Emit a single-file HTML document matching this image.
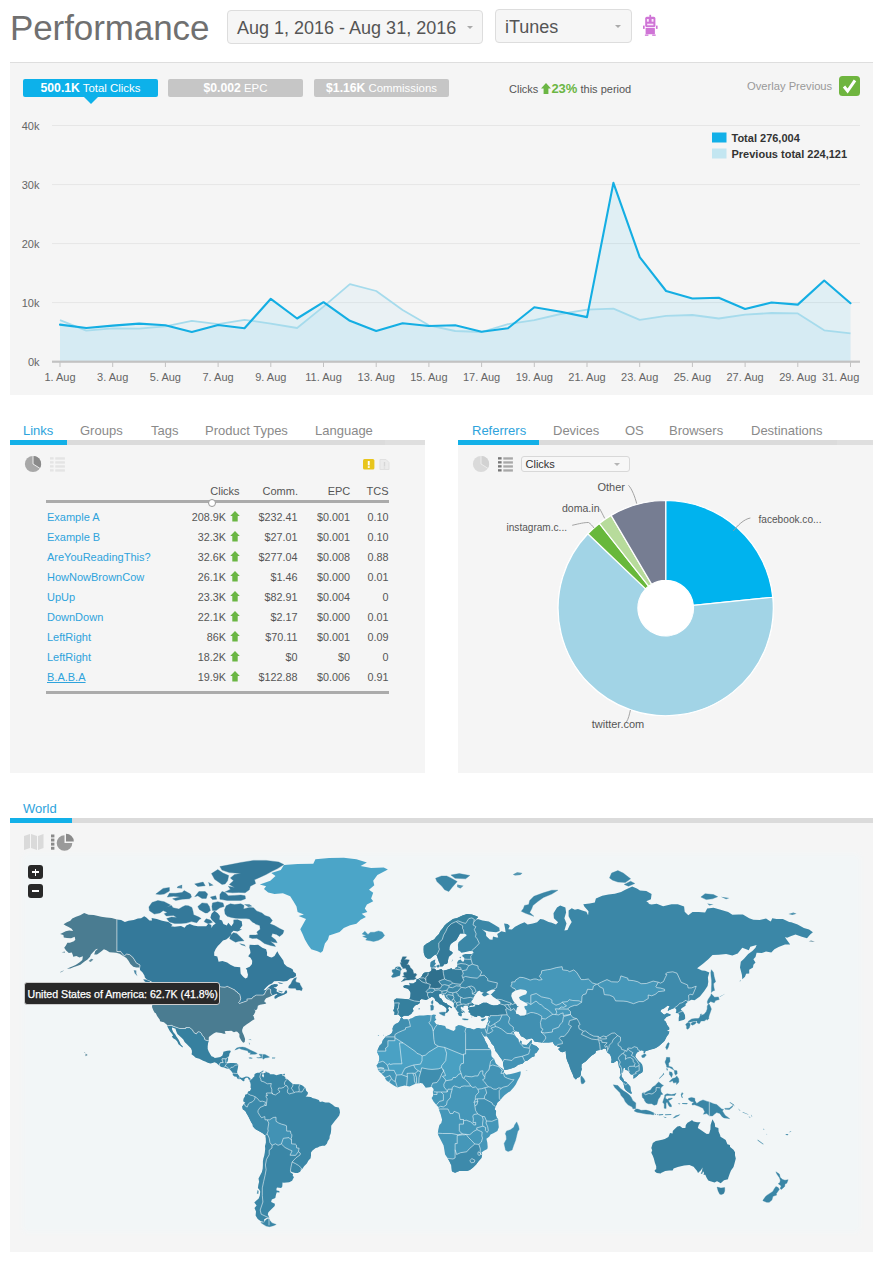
<!DOCTYPE html>
<html>
<head>
<meta charset="utf-8">
<title>Performance</title>
<style>
html,body{margin:0;padding:0;background:#fff;}
body{width:885px;height:1265px;position:relative;overflow:hidden;font-family:"Liberation Sans",sans-serif;color:#555;font-size:11px;}
.abs{position:absolute;}
.t{position:absolute;white-space:nowrap;line-height:1;}
h1{position:absolute;margin:0;left:10px;top:8px;font-size:35px;line-height:40px;font-weight:normal;color:#707070;white-space:nowrap;letter-spacing:-0.1px;}
.sel{position:absolute;box-sizing:border-box;border:1px solid #ddd;border-radius:4px;background:#f6f6f6;font-size:18px;color:#555;white-space:nowrap;}
.sel span{position:absolute;left:9px;top:7px;line-height:20px;}
.caret{position:absolute;width:0;height:0;border-left:3px solid transparent;border-right:3px solid transparent;border-top:3px solid #aaa;}
.panel{position:absolute;background:#f5f5f5;}
.pill{position:absolute;top:79px;height:18px;width:135px;border-radius:2px;background:#c6c6c6;color:#fff;text-align:center;font-size:11.4px;line-height:18px;white-space:nowrap;}
.pill b{font-size:12.2px;}
.tab{position:absolute;font-size:13px;line-height:16px;color:#8a8a8a;white-space:nowrap;}
.tab.on{color:#2ea3dc;}
.bar{position:absolute;height:5.4px;background:#dbdbdb;}
.bar.on{background:#12b0e8;}
.bar.lt{background:#dfdfdf;}
table.lk{position:absolute;left:46px;top:507px;width:343px;border-collapse:collapse;font-size:10.7px;color:#555;}
table.lk td{height:20px;padding:0;line-height:20px;white-space:nowrap;text-align:right;}
table.lk td.n{text-align:left;color:#2ea3dc;font-size:11px;}
.up{display:inline-block;vertical-align:-1px;margin-left:4px;}
</style>
</head>
<body>
<h1>Performance</h1>

<div class="sel" style="left:227px;top:10px;width:256px;height:34px;"><span>Aug 1, 2016 - Aug 31, 2016</span><i class="caret" style="left:239px;top:15px;"></i></div>
<div class="sel" style="left:495px;top:9px;width:137px;height:34px;"><span>iTunes</span><i class="caret" style="left:119px;top:15px;"></i></div>
<!-- robot icon -->
<svg class="abs" style="left:642px;top:14px" width="17" height="23" viewBox="0 0 17 23">
 <g fill="#cf74d6">
  <rect x="7.4" y="0.8" width="1.7" height="2.6"/>
  <rect x="3.2" y="2.8" width="10.2" height="10.4" rx="1.6"/>
  <rect x="1" y="11.6" width="1.7" height="3.3"/>
  <rect x="13.9" y="11.6" width="1.7" height="3.3"/>
  <rect x="3.6" y="13.9" width="9.3" height="6.4" rx="0.6"/>
  <rect x="2.9" y="20.5" width="3.5" height="1.3"/>
  <rect x="10.2" y="20.5" width="3.5" height="1.3"/>
 </g>
 <g fill="#fbe6fc"><rect x="4.9" y="5" width="1.9" height="2.7"/><rect x="9.6" y="5" width="1.9" height="2.7"/><rect x="5.2" y="9.7" width="6.2" height="1.6"/><rect x="3.6" y="13.3" width="9.3" height="0.7"/></g>
</svg>

<!-- ===== top chart panel ===== -->
<div class="panel" style="left:10px;top:62px;width:863px;height:333px;border-top:1px solid #dedede;box-sizing:border-box;"></div>
<div class="pill" style="left:23px;background:#0db1ea;"><b>500.1K</b> Total Clicks</div>
<div class="abs" style="left:84px;top:97px;width:0;height:0;border-left:7px solid transparent;border-right:7px solid transparent;border-top:7px solid #0db1ea;"></div>
<div class="pill" style="left:168px;"><b>$0.002</b> EPC</div>
<div class="pill" style="left:314px;"><b>$1.16K</b> Commissions</div>
<div class="t" style="left:509px;top:82px;font-size:11px;color:#555;line-height:14px;">Clicks <svg width="10" height="11" viewBox="0 0 10 11" style="vertical-align:-1px"><path d="M5 0 L10 5.4 L7.4 5.4 L7.4 11 L2.6 11 L2.6 5.4 L0 5.4 Z" fill="#6bb644"/></svg><b style="color:#6bb644;font-size:13px;">23%</b> this period</div>
<div class="t" style="left:747px;top:80.3px;font-size:11.2px;color:#999;line-height:13px;">Overlay Previous</div>
<svg class="abs" style="left:839px;top:76px" width="21" height="20" viewBox="0 0 21 20"><rect width="21" height="20" rx="3.5" fill="#6fb53f"/><path d="M5 10.5 L8.6 15 L16 4.4" fill="none" stroke="#fff" stroke-width="3" stroke-linecap="butt" stroke-linejoin="miter"/></svg>

<svg class="abs" style="left:0;top:0" width="885" height="400" viewBox="0 0 885 400" font-family="Liberation Sans, sans-serif">
<rect x="52" y="125.0" width="808" height="1" fill="#e6e6e6"/>
<text x="39.5" y="129.7" text-anchor="end" font-size="11" fill="#666">40k</text>
<rect x="52" y="184.1" width="808" height="1" fill="#e6e6e6"/>
<text x="39.5" y="188.8" text-anchor="end" font-size="11" fill="#666">30k</text>
<rect x="52" y="243.1" width="808" height="1" fill="#e6e6e6"/>
<text x="39.5" y="247.8" text-anchor="end" font-size="11" fill="#666">20k</text>
<rect x="52" y="302.1" width="808" height="1" fill="#e6e6e6"/>
<text x="39.5" y="306.8" text-anchor="end" font-size="11" fill="#666">10k</text>
<text x="39.5" y="366" text-anchor="end" font-size="11" fill="#666">0k</text>
<path d="M60.0,361 L60.0,320.2 L86.3,330.7 L112.7,328.3 L139.1,328.6 L165.4,326.3 L191.8,320.8 L218.1,324.2 L244.5,319.8 L270.8,323.6 L297.1,328.0 L323.5,306.6 L349.9,284.1 L376.2,291.0 L402.6,310.0 L428.9,325.3 L455.2,331.0 L481.6,332.0 L508.0,324.2 L534.3,320.2 L560.7,314.0 L587.0,309.7 L613.4,308.6 L639.7,319.8 L666.1,315.8 L692.4,315.0 L718.8,318.5 L745.1,314.7 L771.5,313.0 L797.8,313.4 L824.2,330.3 L850.5,333.4 L850.5,361 Z" fill="#a9dcee" fill-opacity="0.14"/>
<path d="M60.0,361 L60.0,324.6 L86.3,328.0 L112.7,325.6 L139.1,323.6 L165.4,325.3 L191.8,332.0 L218.1,325.0 L244.5,328.3 L270.8,298.8 L297.1,318.5 L323.5,302.2 L349.9,320.8 L376.2,331.0 L402.6,323.2 L428.9,326.0 L455.2,325.3 L481.6,331.7 L508.0,328.3 L534.3,307.3 L560.7,311.7 L587.0,317.1 L613.4,182.9 L639.7,257.1 L666.1,291.0 L692.4,298.5 L718.8,297.8 L745.1,309.0 L771.5,302.5 L797.8,304.6 L824.2,280.5 L850.5,303.2 L850.5,361 Z" fill="#19b0e6" fill-opacity="0.095"/>
<polyline points="60.0,320.2 86.3,330.7 112.7,328.3 139.1,328.6 165.4,326.3 191.8,320.8 218.1,324.2 244.5,319.8 270.8,323.6 297.1,328.0 323.5,306.6 349.9,284.1 376.2,291.0 402.6,310.0 428.9,325.3 455.2,331.0 481.6,332.0 508.0,324.2 534.3,320.2 560.7,314.0 587.0,309.7 613.4,308.6 639.7,319.8 666.1,315.8 692.4,315.0 718.8,318.5 745.1,314.7 771.5,313.0 797.8,313.4 824.2,330.3 850.5,333.4" fill="none" stroke="#a6dbec" stroke-width="1.8" stroke-linejoin="round"/>
<polyline points="60.0,324.6 86.3,328.0 112.7,325.6 139.1,323.6 165.4,325.3 191.8,332.0 218.1,325.0 244.5,328.3 270.8,298.8 297.1,318.5 323.5,302.2 349.9,320.8 376.2,331.0 402.6,323.2 428.9,326.0 455.2,325.3 481.6,331.7 508.0,328.3 534.3,307.3 560.7,311.7 587.0,317.1 613.4,182.9 639.7,257.1 666.1,291.0 692.4,298.5 718.8,297.8 745.1,309.0 771.5,302.5 797.8,304.6 824.2,280.5 850.5,303.2" fill="none" stroke="#14aee3" stroke-width="2.1" stroke-linejoin="round" stroke-linecap="round"/>
<rect x="52" y="360.6" width="808" height="2.2" fill="#c2c2c2"/>
<rect x="59.5" y="362" width="1" height="5" fill="#c2c2c2"/>
<text x="60.0" y="380.5" text-anchor="middle" font-size="11" fill="#666">1. Aug</text>
<rect x="112.2" y="362" width="1" height="5" fill="#c2c2c2"/>
<text x="112.7" y="380.5" text-anchor="middle" font-size="11" fill="#666">3. Aug</text>
<rect x="164.9" y="362" width="1" height="5" fill="#c2c2c2"/>
<text x="165.4" y="380.5" text-anchor="middle" font-size="11" fill="#666">5. Aug</text>
<rect x="217.6" y="362" width="1" height="5" fill="#c2c2c2"/>
<text x="218.1" y="380.5" text-anchor="middle" font-size="11" fill="#666">7. Aug</text>
<rect x="270.3" y="362" width="1" height="5" fill="#c2c2c2"/>
<text x="270.8" y="380.5" text-anchor="middle" font-size="11" fill="#666">9. Aug</text>
<rect x="323.0" y="362" width="1" height="5" fill="#c2c2c2"/>
<text x="323.5" y="380.5" text-anchor="middle" font-size="11" fill="#666">11. Aug</text>
<rect x="375.7" y="362" width="1" height="5" fill="#c2c2c2"/>
<text x="376.2" y="380.5" text-anchor="middle" font-size="11" fill="#666">13. Aug</text>
<rect x="428.4" y="362" width="1" height="5" fill="#c2c2c2"/>
<text x="428.9" y="380.5" text-anchor="middle" font-size="11" fill="#666">15. Aug</text>
<rect x="481.1" y="362" width="1" height="5" fill="#c2c2c2"/>
<text x="481.6" y="380.5" text-anchor="middle" font-size="11" fill="#666">17. Aug</text>
<rect x="533.8" y="362" width="1" height="5" fill="#c2c2c2"/>
<text x="534.3" y="380.5" text-anchor="middle" font-size="11" fill="#666">19. Aug</text>
<rect x="586.5" y="362" width="1" height="5" fill="#c2c2c2"/>
<text x="587.0" y="380.5" text-anchor="middle" font-size="11" fill="#666">21. Aug</text>
<rect x="639.2" y="362" width="1" height="5" fill="#c2c2c2"/>
<text x="639.7" y="380.5" text-anchor="middle" font-size="11" fill="#666">23. Aug</text>
<rect x="691.9" y="362" width="1" height="5" fill="#c2c2c2"/>
<text x="692.4" y="380.5" text-anchor="middle" font-size="11" fill="#666">25. Aug</text>
<rect x="744.6" y="362" width="1" height="5" fill="#c2c2c2"/>
<text x="745.1" y="380.5" text-anchor="middle" font-size="11" fill="#666">27. Aug</text>
<rect x="797.3" y="362" width="1" height="5" fill="#c2c2c2"/>
<text x="797.8" y="380.5" text-anchor="middle" font-size="11" fill="#666">29. Aug</text>
<rect x="850.0" y="362" width="1" height="5" fill="#c2c2c2"/>
<text x="840.7" y="380.5" text-anchor="middle" font-size="11" fill="#666">31. Aug</text>
<rect x="712" y="132.5" width="14.5" height="10" fill="#12b0e8"/>
<text x="731.5" y="141.8" font-size="11" font-weight="bold" fill="#333">Total 276,004</text>
<rect x="712" y="148.5" width="14.5" height="10" fill="#c3e6f1"/>
<text x="731.5" y="157.8" font-size="11" font-weight="bold" fill="#333">Previous total 224,121</text>
</svg>

<!-- ===== left tabs/table ===== -->
<div class="tab on" style="left:23px;top:423px;">Links</div>
<div class="tab" style="left:80px;top:423px;">Groups</div>
<div class="tab" style="left:151px;top:423px;">Tags</div>
<div class="tab" style="left:205px;top:423px;">Product Types</div>
<div class="tab" style="left:315px;top:423px;">Language</div>
<div class="panel" style="left:10px;top:445px;width:415px;height:328px;"></div>
<div class="bar lt" style="left:10px;top:440px;width:415px;"></div>
<div class="bar" style="left:10px;top:440px;width:375px;"></div>
<div class="bar on" style="left:10px;top:440px;width:57px;"></div>

<svg class="abs" style="left:23.1px;top:454.1px;opacity:1" width="20" height="20" viewBox="-10 -10 20 20"><circle r="8.1" fill="#a8a8a8"/><path d="M0,0 L0,-8.1 A8.1,8.1 0 0 1 6.87,4.29 Z" fill="#8a8a8a"/><path d="M0,-8.1 L0,0 L6.87,4.29" fill="none" stroke="#ececec" stroke-width="1"/></svg><svg class="abs" style="left:50.3px;top:457.0px;opacity:0.6" width="16" height="15" viewBox="0 0 16 15"><rect x="0" y="0.2" width="3.6" height="2.3" fill="#d9d9d9"/><rect x="5.3" y="0.3" width="9.6" height="2.3" fill="#d9d9d9"/><rect x="0" y="4.2" width="3.6" height="2.3" fill="#d9d9d9"/><rect x="5.3" y="4.3" width="9.6" height="2.3" fill="#d9d9d9"/><rect x="0" y="8.2" width="3.6" height="2.3" fill="#d9d9d9"/><rect x="5.3" y="8.3" width="9.6" height="2.3" fill="#d9d9d9"/><rect x="0" y="12.2" width="3.6" height="2.3" fill="#d9d9d9"/><rect x="5.3" y="12.3" width="9.6" height="2.3" fill="#d9d9d9"/></svg><svg class="abs" style="left:363px;top:459px" width="12" height="11" viewBox="0 0 12 11"><rect width="11.4" height="10.6" rx="1.5" fill="#e8c51c"/><rect x="4.8" y="2" width="1.9" height="4.4" fill="#fff"/><rect x="4.8" y="7.2" width="1.9" height="1.7" fill="#fff"/></svg><svg class="abs" style="left:379px;top:459px;opacity:.55" width="11" height="12" viewBox="0 0 11 12"><path d="M1,0.5 H7 L10,3.5 V10.5 H1 Z" fill="#e4e4e4" stroke="#cfcfcf" stroke-width="1"/><path d="M5.5,3 V7.5 M5.5,8.6 V9.6" stroke="#bdbdbd" stroke-width="1.4"/></svg>

<div class="t" style="right:645.4px;top:483.7px;line-height:14px;font-size:10.8px;font-size:11px;">Clicks</div>
<div class="t" style="right:587.0px;top:483.7px;line-height:14px;font-size:10.8px;font-size:11px;">Comm.</div>
<div class="t" style="right:534.7px;top:483.7px;line-height:14px;font-size:10.8px;font-size:11px;">EPC</div>
<div class="t" style="right:496.5px;top:483.7px;line-height:14px;font-size:10.8px;font-size:11px;">TCS</div>
<div class="abs" style="left:46px;top:500px;width:342.5px;height:2.6px;background:#ababab;"></div>
<div class="abs" style="left:208px;top:498.5px;width:6px;height:6px;border-radius:5px;background:#fff;border:1px solid #999;"></div>
<div class="t" style="left:47px;top:509.7px;line-height:14px;font-size:11px;color:#2ea3dc;">Example A</div>
<div class="t" style="right:659.0px;top:509.7px;line-height:14px;font-size:10.8px;">208.9K</div>
<svg class="abs" style="left:230px;top:510.9px" width="10" height="11" viewBox="0 0 10 11"><path d="M5 0 L9.8 4.9 L7.7 4.9 L7.7 10.6 L2.3 10.6 L2.3 4.9 L0.2 4.9 Z" fill="#6bb644"/></svg>
<div class="t" style="right:587.5px;top:509.7px;line-height:14px;font-size:10.8px;">$232.41</div>
<div class="t" style="right:535.0px;top:509.7px;line-height:14px;font-size:10.8px;">$0.001</div>
<div class="t" style="right:496.5px;top:509.7px;line-height:14px;font-size:10.8px;">0.10</div>
<div class="t" style="left:47px;top:529.7px;line-height:14px;font-size:11px;color:#2ea3dc;">Example B</div>
<div class="t" style="right:659.0px;top:529.7px;line-height:14px;font-size:10.8px;">32.3K</div>
<svg class="abs" style="left:230px;top:530.9px" width="10" height="11" viewBox="0 0 10 11"><path d="M5 0 L9.8 4.9 L7.7 4.9 L7.7 10.6 L2.3 10.6 L2.3 4.9 L0.2 4.9 Z" fill="#6bb644"/></svg>
<div class="t" style="right:587.5px;top:529.7px;line-height:14px;font-size:10.8px;">$27.01</div>
<div class="t" style="right:535.0px;top:529.7px;line-height:14px;font-size:10.8px;">$0.001</div>
<div class="t" style="right:496.5px;top:529.7px;line-height:14px;font-size:10.8px;">0.10</div>
<div class="t" style="left:47px;top:549.7px;line-height:14px;font-size:11px;color:#2ea3dc;">AreYouReadingThis?</div>
<div class="t" style="right:659.0px;top:549.7px;line-height:14px;font-size:10.8px;">32.6K</div>
<svg class="abs" style="left:230px;top:550.9px" width="10" height="11" viewBox="0 0 10 11"><path d="M5 0 L9.8 4.9 L7.7 4.9 L7.7 10.6 L2.3 10.6 L2.3 4.9 L0.2 4.9 Z" fill="#6bb644"/></svg>
<div class="t" style="right:587.5px;top:549.7px;line-height:14px;font-size:10.8px;">$277.04</div>
<div class="t" style="right:535.0px;top:549.7px;line-height:14px;font-size:10.8px;">$0.008</div>
<div class="t" style="right:496.5px;top:549.7px;line-height:14px;font-size:10.8px;">0.88</div>
<div class="t" style="left:47px;top:569.7px;line-height:14px;font-size:11px;color:#2ea3dc;">HowNowBrownCow</div>
<div class="t" style="right:659.0px;top:569.7px;line-height:14px;font-size:10.8px;">26.1K</div>
<svg class="abs" style="left:230px;top:570.9px" width="10" height="11" viewBox="0 0 10 11"><path d="M5 0 L9.8 4.9 L7.7 4.9 L7.7 10.6 L2.3 10.6 L2.3 4.9 L0.2 4.9 Z" fill="#6bb644"/></svg>
<div class="t" style="right:587.5px;top:569.7px;line-height:14px;font-size:10.8px;">$1.46</div>
<div class="t" style="right:535.0px;top:569.7px;line-height:14px;font-size:10.8px;">$0.000</div>
<div class="t" style="right:496.5px;top:569.7px;line-height:14px;font-size:10.8px;">0.01</div>
<div class="t" style="left:47px;top:589.7px;line-height:14px;font-size:11px;color:#2ea3dc;">UpUp</div>
<div class="t" style="right:659.0px;top:589.7px;line-height:14px;font-size:10.8px;">23.3K</div>
<svg class="abs" style="left:230px;top:590.9px" width="10" height="11" viewBox="0 0 10 11"><path d="M5 0 L9.8 4.9 L7.7 4.9 L7.7 10.6 L2.3 10.6 L2.3 4.9 L0.2 4.9 Z" fill="#6bb644"/></svg>
<div class="t" style="right:587.5px;top:589.7px;line-height:14px;font-size:10.8px;">$82.91</div>
<div class="t" style="right:535.0px;top:589.7px;line-height:14px;font-size:10.8px;">$0.004</div>
<div class="t" style="right:496.5px;top:589.7px;line-height:14px;font-size:10.8px;">0</div>
<div class="t" style="left:47px;top:609.7px;line-height:14px;font-size:11px;color:#2ea3dc;">DownDown</div>
<div class="t" style="right:659.0px;top:609.7px;line-height:14px;font-size:10.8px;">22.1K</div>
<svg class="abs" style="left:230px;top:610.9px" width="10" height="11" viewBox="0 0 10 11"><path d="M5 0 L9.8 4.9 L7.7 4.9 L7.7 10.6 L2.3 10.6 L2.3 4.9 L0.2 4.9 Z" fill="#6bb644"/></svg>
<div class="t" style="right:587.5px;top:609.7px;line-height:14px;font-size:10.8px;">$2.17</div>
<div class="t" style="right:535.0px;top:609.7px;line-height:14px;font-size:10.8px;">$0.000</div>
<div class="t" style="right:496.5px;top:609.7px;line-height:14px;font-size:10.8px;">0.01</div>
<div class="t" style="left:47px;top:629.7px;line-height:14px;font-size:11px;color:#2ea3dc;">LeftRight</div>
<div class="t" style="right:659.0px;top:629.7px;line-height:14px;font-size:10.8px;">86K</div>
<svg class="abs" style="left:230px;top:630.9px" width="10" height="11" viewBox="0 0 10 11"><path d="M5 0 L9.8 4.9 L7.7 4.9 L7.7 10.6 L2.3 10.6 L2.3 4.9 L0.2 4.9 Z" fill="#6bb644"/></svg>
<div class="t" style="right:587.5px;top:629.7px;line-height:14px;font-size:10.8px;">$70.11</div>
<div class="t" style="right:535.0px;top:629.7px;line-height:14px;font-size:10.8px;">$0.001</div>
<div class="t" style="right:496.5px;top:629.7px;line-height:14px;font-size:10.8px;">0.09</div>
<div class="t" style="left:47px;top:649.7px;line-height:14px;font-size:11px;color:#2ea3dc;">LeftRight</div>
<div class="t" style="right:659.0px;top:649.7px;line-height:14px;font-size:10.8px;">18.2K</div>
<svg class="abs" style="left:230px;top:650.9px" width="10" height="11" viewBox="0 0 10 11"><path d="M5 0 L9.8 4.9 L7.7 4.9 L7.7 10.6 L2.3 10.6 L2.3 4.9 L0.2 4.9 Z" fill="#6bb644"/></svg>
<div class="t" style="right:587.5px;top:649.7px;line-height:14px;font-size:10.8px;">$0</div>
<div class="t" style="right:535.0px;top:649.7px;line-height:14px;font-size:10.8px;">$0</div>
<div class="t" style="right:496.5px;top:649.7px;line-height:14px;font-size:10.8px;">0</div>
<div class="t" style="left:47px;top:669.7px;line-height:14px;font-size:11px;color:#2ea3dc;text-decoration:underline;">B.A.B.A</div>
<div class="t" style="right:659.0px;top:669.7px;line-height:14px;font-size:10.8px;">19.9K</div>
<svg class="abs" style="left:230px;top:670.9px" width="10" height="11" viewBox="0 0 10 11"><path d="M5 0 L9.8 4.9 L7.7 4.9 L7.7 10.6 L2.3 10.6 L2.3 4.9 L0.2 4.9 Z" fill="#6bb644"/></svg>
<div class="t" style="right:587.5px;top:669.7px;line-height:14px;font-size:10.8px;">$122.88</div>
<div class="t" style="right:535.0px;top:669.7px;line-height:14px;font-size:10.8px;">$0.006</div>
<div class="t" style="right:496.5px;top:669.7px;line-height:14px;font-size:10.8px;">0.91</div>
<div class="abs" style="left:46px;top:691.3px;width:342.5px;height:2.6px;background:#ababab;"></div>

<!-- ===== right tabs/pie ===== -->
<div class="tab on" style="left:472px;top:423px;">Referrers</div>
<div class="tab" style="left:553px;top:423px;">Devices</div>
<div class="tab" style="left:625px;top:423px;">OS</div>
<div class="tab" style="left:669px;top:423px;">Browsers</div>
<div class="tab" style="left:751px;top:423px;">Destinations</div>
<div class="panel" style="left:458px;top:445px;width:415px;height:328px;"></div>
<div class="bar lt" style="left:458px;top:440px;width:415px;"></div>
<div class="bar" style="left:458px;top:440px;width:379px;"></div>
<div class="bar on" style="left:458px;top:440px;width:81px;"></div>

<svg class="abs" style="left:471.3px;top:454.0px;opacity:1" width="20" height="20" viewBox="-10 -10 20 20"><circle r="8.1" fill="#dadada"/><path d="M0,0 L0,-8.1 A8.1,8.1 0 0 1 6.87,4.29 Z" fill="#d2d2d2"/><path d="M0,-8.1 L0,0 L6.87,4.29" fill="none" stroke="#ececec" stroke-width="1"/></svg><svg class="abs" style="left:498.0px;top:457.0px;opacity:1" width="16" height="15" viewBox="0 0 16 15"><rect x="0" y="0.2" width="3.6" height="2.3" fill="#777"/><rect x="5.3" y="0.3" width="9.6" height="2.3" fill="#a8a8a8"/><rect x="0" y="4.2" width="3.6" height="2.3" fill="#777"/><rect x="5.3" y="4.3" width="9.6" height="2.3" fill="#a8a8a8"/><rect x="0" y="8.2" width="3.6" height="2.3" fill="#777"/><rect x="5.3" y="8.3" width="9.6" height="2.3" fill="#a8a8a8"/><rect x="0" y="12.2" width="3.6" height="2.3" fill="#777"/><rect x="5.3" y="12.3" width="9.6" height="2.3" fill="#a8a8a8"/></svg>
<div class="abs" style="left:520.5px;top:456px;width:109px;height:16px;box-sizing:border-box;border:1px solid #d8d8d8;border-radius:3px;background:#f7f7f7;"></div>
<div class="t" style="left:525.5px;top:457.5px;font-size:11px;line-height:13px;color:#333;">Clicks</div>
<i class="caret" style="left:614px;top:463px;border-top-color:#b5b5b5;"></i>
<svg class="abs" style="left:0;top:400px" width="885" height="400" viewBox="0 400 885 400" font-family="Liberation Sans, sans-serif">
<circle cx="665.7" cy="608.1" r="108.2" fill="#fff"/>
<path d="M665.70,500.50 A107.60,107.60 0 0 1 772.75,597.23 L693.36,605.29 A27.80,27.80 0 0 0 665.70,580.30 Z" fill="#00b3ee" stroke="#fff" stroke-width="1.2" stroke-linejoin="round"/>
<path d="M772.75,597.23 A107.60,107.60 0 1 1 587.91,533.76 L645.60,588.89 A27.80,27.80 0 1 0 693.36,605.29 Z" fill="#a2d4e6" stroke="#fff" stroke-width="1.2" stroke-linejoin="round"/>
<path d="M587.91,533.76 A107.60,107.60 0 0 1 599.31,523.43 L648.55,586.22 A27.80,27.80 0 0 0 645.60,588.89 Z" fill="#68b83b" stroke="#fff" stroke-width="1.2" stroke-linejoin="round"/>
<path d="M599.31,523.43 A107.60,107.60 0 0 1 611.09,515.39 L651.59,584.15 A27.80,27.80 0 0 0 648.55,586.22 Z" fill="#b7db9b" stroke="#fff" stroke-width="1.2" stroke-linejoin="round"/>
<path d="M611.09,515.39 A107.60,107.60 0 0 1 665.70,500.50 L665.70,580.30 A27.80,27.80 0 0 0 651.59,584.15 Z" fill="#767d92" stroke="#fff" stroke-width="1.2" stroke-linejoin="round"/>
<path d="M628.5,485.3 C632,489 635,497 636.7,503.6" fill="none" stroke="#9a9a9a" stroke-width="0.9"/>
<path d="M599.7,508.8 C601,511 603,515 604.7,518.4" fill="none" stroke="#9a9a9a" stroke-width="0.9"/>
<path d="M572.2,525.3 C580,523.5 584,522.5 588.5,522.5 C590.5,523.5 592.5,526 594,528" fill="none" stroke="#9a9a9a" stroke-width="0.9"/>
<path d="M750.4,518 C744,519 737,526 733.3,531" fill="none" stroke="#9a9a9a" stroke-width="0.9"/>
<path d="M626.3,722.2 C628.5,719 629.5,714 630.4,710" fill="none" stroke="#9a9a9a" stroke-width="0.9"/>
<text x="597.5" y="491.2" font-size="11" fill="#555">Other</text>
<text x="562" y="511.5" font-size="11" fill="#555" textLength="37.5" lengthAdjust="spacingAndGlyphs">doma.in</text>
<text x="506.5" y="530.5" font-size="11" fill="#555" textLength="60.5" lengthAdjust="spacingAndGlyphs">instagram.c...</text>
<text x="758.5" y="523" font-size="11" fill="#555" textLength="63" lengthAdjust="spacingAndGlyphs">facebook.co...</text>
<text x="591.7" y="728.4" font-size="11" fill="#555">twitter.com</text>
</svg>

<!-- ===== world ===== -->
<div class="tab on" style="left:23px;top:801px;">World</div>
<div class="panel" style="left:10px;top:823px;width:863px;height:429px;background:#f5f5f5;"></div>
<div class="abs" style="left:26px;top:857px;width:831px;height:372px;background:#f2f6f7;box-shadow:0 0 5px 3px #f2f6f7;"></div>
<div class="bar" style="left:10px;top:818px;width:863px;"></div>
<div class="bar on" style="left:10px;top:818px;width:62px;"></div>

<svg class="abs" style="left:0;top:823px" width="885" height="430" viewBox="0 823 885 430">
<defs><clipPath id="land">
<path d="M219.4,1065.8 L221.3,1067.1 L223.9,1067.5 L226.4,1068.5 L228.7,1068.7 L229.5,1069.2 L231.2,1071.0 L232.9,1073.2 L232.7,1074.9 L234.4,1076.4 L236.5,1076.8 L237.3,1078.5 L238.8,1079.2 L240.5,1079.1 L241.7,1080.1 L243.2,1081.2 L244.4,1081.0 L244.4,1079.2 L245.9,1077.8 L247.8,1077.8 L248.6,1079.3 L249.5,1081.3 L250.6,1078.4 L248.2,1076.8 L245.9,1076.4 L243.6,1077.6 L241.9,1078.0 L240.2,1077.2 L238.8,1075.5 L237.3,1073.6 L237.1,1071.5 L237.7,1069.1 L238.1,1066.5 L238.3,1064.8 L236.7,1063.2 L233.5,1062.9 L230.4,1063.1 L228.1,1063.3 L227.0,1062.9 L226.4,1062.9 L227.6,1061.4 L228.1,1059.4 L228.1,1057.3 L227.6,1057.3 L225.9,1058.8 L222.0,1058.8 L222.0,1060.0 L223.0,1062.0 L223.2,1062.5 L220.5,1062.6 L219.4,1064.3 L219.4,1065.8Z"/>
<path d="M250.6,1078.4 L251.7,1079.5 L252.8,1077.8 L254.3,1076.6 L254.5,1074.2 L255.9,1073.3 L257.3,1072.7 L259.4,1072.7 L261.5,1071.5 L263.3,1070.3 L263.3,1071.7 L262.1,1072.5 L262.7,1073.8 L261.9,1075.9 L263.6,1077.4 L264.0,1075.5 L263.1,1073.6 L265.7,1072.5 L265.7,1071.0 L266.7,1072.3 L269.4,1073.0 L269.9,1074.2 L273.9,1074.2 L276.4,1075.3 L278.1,1074.7 L280.8,1074.0 L283.1,1074.0 L281.6,1075.1 L283.7,1075.9 L285.4,1077.0 L285.2,1078.5 L287.3,1079.1 L290.0,1081.6 L292.8,1084.0 L295.7,1084.3 L298.6,1084.2 L299.9,1084.5 L302.0,1085.2 L304.3,1087.0 L305.4,1087.9 L306.2,1090.7 L308.1,1092.8 L307.3,1095.1 L305.6,1096.6 L308.1,1096.8 L311.0,1097.0 L312.3,1098.1 L315.4,1098.7 L318.8,1099.9 L319.9,1102.0 L322.2,1101.6 L325.3,1102.5 L329.1,1102.6 L332.3,1104.4 L335.0,1106.8 L338.8,1107.4 L339.6,1109.8 L340.0,1112.4 L339.2,1115.5 L336.7,1118.7 L334.8,1120.9 L332.5,1123.9 L331.2,1125.8 L331.2,1129.4 L330.8,1133.3 L329.7,1135.9 L329.5,1138.5 L327.6,1141.4 L327.0,1143.6 L324.9,1145.7 L322.4,1145.8 L319.4,1146.4 L317.8,1147.5 L315.7,1148.0 L312.5,1150.4 L311.0,1152.5 L311.0,1155.4 L310.6,1158.3 L308.5,1160.4 L306.8,1163.6 L304.1,1166.2 L302.6,1168.5 L301.0,1170.3 L300.1,1171.8 L297.8,1173.1 L295.1,1173.0 L291.7,1171.9 L290.3,1170.6 L290.4,1172.3 L293.0,1174.0 L292.8,1176.1 L294.0,1177.1 L292.1,1180.7 L289.2,1182.2 L283.9,1182.8 L282.5,1182.4 L282.3,1186.6 L281.2,1188.0 L277.0,1187.4 L276.4,1189.1 L276.6,1190.6 L279.3,1190.9 L279.5,1192.4 L276.8,1192.3 L276.0,1194.5 L275.3,1198.1 L271.8,1199.6 L271.1,1202.0 L274.9,1203.8 L274.7,1206.0 L271.1,1209.5 L268.4,1212.2 L267.8,1214.2 L269.4,1217.9 L267.1,1217.8 L264.2,1219.2 L264.2,1222.1 L260.8,1221.2 L257.7,1218.9 L255.6,1215.6 L256.0,1211.4 L254.5,1208.1 L256.6,1205.4 L254.3,1202.5 L256.4,1200.4 L258.7,1198.6 L259.8,1195.5 L260.2,1191.4 L259.6,1189.9 L257.9,1187.9 L258.3,1184.9 L259.1,1181.7 L258.5,1178.5 L260.2,1175.2 L261.9,1172.1 L262.7,1168.5 L262.9,1165.0 L262.9,1161.6 L263.3,1158.8 L264.2,1155.8 L264.8,1152.5 L265.2,1149.1 L265.0,1146.0 L265.9,1142.5 L265.8,1138.7 L265.3,1135.6 L263.1,1133.5 L260.2,1131.8 L257.0,1130.1 L255.2,1129.0 L252.8,1126.2 L252.8,1124.7 L251.1,1122.0 L249.9,1119.6 L248.0,1115.8 L246.5,1113.2 L245.3,1110.9 L242.8,1109.2 L242.3,1106.5 L244.2,1103.8 L245.3,1102.0 L244.4,1102.3 L243.2,1101.2 L243.5,1098.7 L244.9,1096.6 L245.1,1094.8 L247.2,1094.1 L247.6,1092.8 L248.4,1091.2 L249.9,1091.1 L251.2,1088.4 L250.5,1087.8 L250.7,1084.8 L250.3,1082.5 L249.5,1081.3Z"/>
<path d="M477.8,919.0 L482.5,920.5 L488.8,921.6 L494.0,924.5 L499.3,927.8 L499.7,930.9 L496.1,932.3 L488.8,931.6 L483.5,930.1 L481.6,928.8 L486.0,932.7 L486.2,936.1 L489.8,939.5 L492.5,939.8 L493.0,936.5 L496.7,937.5 L498.2,937.5 L497.2,934.1 L501.4,931.3 L505.6,932.3 L505.1,928.5 L504.1,923.4 L507.7,924.1 L509.8,926.0 L508.3,929.2 L511.9,929.5 L515.0,926.7 L520.3,924.1 L524.5,922.3 L527.6,924.5 L532.9,923.4 L537.1,922.3 L540.2,919.0 L543.4,919.4 L548.6,922.0 L551.8,922.7 L556.0,924.5 L558.1,922.3 L553.9,918.2 L553.5,913.3 L557.0,907.4 L560.2,905.4 L565.4,907.4 L566.1,912.5 L564.4,918.2 L566.5,923.4 L564.4,930.6 L567.5,929.9 L569.6,925.6 L571.7,922.0 L568.6,916.3 L568.6,910.6 L571.7,908.2 L574.9,909.8 L578.0,909.0 L582.2,910.6 L586.4,911.7 L588.1,915.2 L588.5,911.3 L584.3,906.6 L583.3,904.2 L589.6,903.4 L594.8,902.5 L595.9,898.4 L602.2,895.8 L608.5,894.6 L614.8,893.7 L621.1,892.0 L625.3,889.8 L632.2,886.6 L636.9,888.4 L640.0,890.6 L646.3,891.1 L651.6,894.1 L650.9,899.2 L646.3,901.3 L649.5,903.4 L642.1,904.6 L636.9,905.8 L644.2,902.9 L651.6,904.6 L656.8,903.8 L663.1,906.2 L671.5,904.2 L677.8,904.2 L684.1,906.6 L684.7,911.7 L688.3,915.2 L692.5,912.1 L698.8,912.1 L705.1,912.5 L707.2,908.6 L713.5,907.8 L719.8,909.4 L728.2,912.1 L732.4,914.8 L738.7,914.4 L742.9,914.4 L749.2,918.2 L753.4,919.7 L759.7,920.1 L766.0,918.6 L771.3,922.0 L770.2,922.7 L772.3,918.2 L776.5,919.0 L782.9,919.0 L789.2,922.0 L791.3,922.3 L797.6,924.5 L803.9,928.1 L809.1,929.5 L812.9,932.3 L810.2,934.4 L807.0,938.2 L801.8,936.8 L795.5,934.4 L791.3,936.1 L787.1,937.8 L785.0,937.1 L786.0,938.8 L790.2,944.5 L785.0,944.5 L778.6,947.1 L774.4,949.3 L771.3,952.5 L766.0,951.5 L761.8,953.1 L756.6,952.8 L755.5,957.1 L753.4,959.3 L755.5,962.6 L753.4,964.7 L753.0,967.6 L749.2,969.7 L749.2,973.4 L746.1,973.7 L745.0,976.8 L742.3,979.3 L741.9,974.8 L740.0,967.6 L740.8,961.7 L744.0,958.7 L748.2,954.0 L752.4,950.9 L755.5,947.7 L756.6,945.1 L750.3,946.8 L748.8,950.3 L742.3,947.7 L737.7,953.4 L732.4,955.6 L726.1,954.0 L718.8,954.7 L712.5,955.0 L708.3,959.3 L703.0,963.8 L697.1,968.2 L702.0,970.5 L705.1,970.8 L709.3,972.5 L707.9,977.6 L708.3,981.8 L707.6,986.1 L704.1,991.2 L699.9,996.4 L694.6,1000.2 L691.5,999.7 L688.3,1001.3 L687.7,1002.0 L685.6,1004.0 L685.6,1005.8 L681.6,1008.3 L680.8,1009.8 L682.9,1011.2 L685.0,1015.1 L685.2,1018.5 L684.1,1019.7 L681.4,1020.6 L678.7,1021.3 L678.7,1018.0 L679.3,1015.1 L678.0,1013.3 L675.7,1012.9 L676.3,1011.0 L676.1,1009.0 L674.5,1008.0 L673.6,1008.3 L669.4,1010.0 L667.7,1010.9 L668.8,1007.8 L669.8,1006.5 L667.7,1005.5 L664.2,1008.3 L661.0,1009.8 L660.4,1011.5 L662.9,1013.7 L664.2,1014.8 L666.7,1013.2 L670.5,1014.2 L670.3,1015.4 L666.7,1016.8 L663.7,1019.9 L665.8,1021.8 L667.1,1024.9 L669.2,1027.7 L669.2,1029.5 L666.3,1030.9 L669.4,1031.6 L668.6,1034.1 L666.7,1036.4 L664.6,1040.7 L663.1,1042.3 L661.2,1044.1 L658.9,1046.1 L655.8,1048.1 L653.0,1048.9 L651.6,1049.2 L648.4,1050.3 L645.3,1051.2 L645.0,1053.1 L643.8,1053.3 L643.8,1050.7 L641.1,1050.3 L640.0,1050.7 L637.3,1052.2 L635.8,1054.2 L635.2,1056.4 L636.9,1059.0 L639.0,1061.4 L640.6,1062.7 L642.1,1064.8 L642.7,1068.0 L642.9,1070.8 L642.1,1072.5 L638.5,1074.4 L637.3,1076.1 L634.3,1078.3 L633.3,1078.5 L633.7,1075.5 L632.4,1074.7 L630.6,1074.2 L629.5,1072.7 L629.3,1071.9 L627.8,1070.6 L625.3,1069.8 L625.1,1068.0 L624.2,1068.0 L623.2,1068.5 L623.2,1071.2 L621.7,1073.8 L621.5,1076.6 L623.2,1078.7 L624.2,1081.2 L626.3,1082.1 L627.6,1083.5 L630.3,1086.5 L630.6,1090.3 L632.0,1093.6 L630.3,1093.6 L627.4,1091.5 L625.9,1090.3 L624.5,1088.2 L623.8,1085.0 L623.4,1082.9 L621.7,1080.8 L620.0,1079.3 L619.6,1077.6 L620.5,1074.9 L620.3,1071.7 L620.0,1068.5 L619.0,1067.0 L618.4,1063.8 L618.2,1061.6 L616.7,1060.7 L614.8,1062.0 L613.3,1063.1 L611.2,1062.7 L611.6,1059.4 L611.0,1056.8 L610.0,1054.4 L608.1,1052.9 L607.0,1052.2 L606.4,1050.5 L606.0,1048.7 L603.9,1048.5 L602.2,1049.6 L600.1,1050.1 L598.0,1050.3 L595.9,1050.9 L595.5,1052.9 L593.8,1054.2 L591.7,1055.5 L588.5,1058.6 L586.0,1061.2 L583.3,1063.1 L581.6,1064.2 L581.4,1067.4 L581.8,1069.1 L581.0,1071.7 L580.8,1074.9 L579.5,1077.0 L577.4,1077.8 L575.9,1079.5 L573.8,1077.6 L572.8,1074.4 L571.3,1071.2 L570.0,1068.0 L569.0,1064.8 L567.5,1061.6 L566.5,1058.4 L566.1,1056.2 L565.8,1052.9 L565.6,1050.7 L564.6,1051.4 L562.3,1052.2 L560.6,1051.8 L558.1,1048.9 L560.6,1047.6 L557.7,1046.7 L556.4,1045.8 L554.7,1045.2 L553.2,1042.9 L552.8,1042.1 L548.6,1042.5 L544.4,1042.5 L542.5,1042.7 L540.2,1042.3 L537.1,1042.1 L534.5,1041.4 L532.9,1038.9 L531.4,1038.2 L528.7,1039.1 L526.6,1039.4 L523.6,1037.3 L521.1,1036.2 L519.8,1033.9 L518.6,1031.6 L517.1,1031.4 L515.9,1030.9 L515.2,1031.6 L514.0,1031.7 L513.9,1033.2 L514.8,1035.0 L515.9,1037.1 L517.3,1038.2 L518.4,1039.4 L518.6,1041.4 L519.8,1043.4 L519.8,1041.8 L520.7,1040.5 L521.5,1041.2 L521.5,1043.8 L520.9,1044.5 L523.6,1044.7 L526.6,1045.0 L528.7,1042.9 L530.8,1040.7 L531.6,1040.0 L531.6,1042.9 L532.2,1044.3 L534.5,1045.6 L536.2,1046.1 L538.7,1048.5 L538.7,1049.6 L536.2,1053.1 L534.5,1053.6 L534.5,1056.2 L532.0,1057.1 L529.7,1058.8 L527.6,1060.5 L524.7,1061.3 L522.8,1063.5 L518.2,1064.8 L515.4,1066.9 L511.9,1068.3 L507.7,1069.5 L504.5,1069.9 L504.1,1068.5 L503.2,1065.3 L503.0,1061.8 L502.0,1059.7 L499.7,1056.8 L497.6,1053.6 L495.5,1050.9 L494.0,1046.1 L491.5,1043.6 L490.2,1040.7 L487.9,1037.5 L486.4,1036.0 L486.7,1032.8 L486.4,1032.8 L485.1,1028.6 L485.8,1027.5 L486.7,1025.1 L486.9,1024.4 L487.7,1022.5 L488.5,1020.8 L488.3,1018.0 L489.2,1016.1 L487.9,1016.1 L485.8,1015.6 L483.9,1017.2 L481.6,1017.4 L480.4,1016.2 L477.4,1015.5 L477.0,1016.9 L474.3,1016.6 L472.4,1015.6 L470.7,1015.1 L470.3,1012.9 L468.4,1012.0 L469.4,1010.3 L468.0,1009.0 L468.2,1007.7 L470.9,1006.9 L474.0,1006.8 L475.9,1005.9 L474.3,1004.8 L478.9,1005.0 L483.1,1002.8 L486.9,1002.7 L489.8,1004.5 L493.6,1005.4 L497.2,1005.3 L500.3,1004.0 L500.5,1002.0 L497.8,999.7 L496.5,999.0 L493.0,996.7 L491.5,995.1 L490.6,994.7 L493.0,992.5 L495.5,989.9 L492.1,989.6 L487.5,991.4 L486.4,992.8 L489.6,994.2 L487.5,995.1 L485.0,996.5 L483.5,996.3 L481.6,994.2 L483.7,992.5 L480.8,992.1 L479.9,990.8 L477.8,991.2 L475.5,994.3 L473.4,997.7 L473.2,999.0 L471.3,1001.3 L471.9,1002.8 L474.3,1004.7 L472.4,1005.4 L470.9,1005.3 L469.2,1006.5 L468.2,1007.5 L468.0,1006.2 L466.1,1005.5 L463.5,1005.9 L463.5,1007.5 L462.3,1007.2 L461.2,1006.5 L460.6,1008.0 L461.9,1009.9 L461.2,1010.7 L463.5,1012.7 L462.9,1012.9 L461.4,1012.9 L461.9,1014.4 L461.7,1016.3 L460.2,1016.3 L458.7,1015.6 L457.7,1013.2 L458.9,1012.0 L457.5,1011.7 L456.6,1010.3 L455.4,1008.8 L454.9,1007.8 L453.7,1006.5 L453.9,1004.0 L453.7,1003.0 L452.0,1001.6 L449.5,1000.2 L446.7,999.0 L445.1,997.2 L444.4,995.1 L443.2,994.3 L442.3,995.6 L441.5,993.8 L441.9,993.2 L439.2,994.1 L439.0,995.6 L439.4,997.4 L441.7,999.0 L443.0,1001.8 L445.1,1003.0 L446.7,1003.0 L446.5,1004.0 L448.8,1005.3 L452.0,1007.3 L451.6,1008.3 L449.0,1006.5 L448.0,1008.3 L449.0,1010.3 L447.8,1011.7 L446.9,1012.8 L446.0,1012.5 L446.5,1010.7 L446.7,1009.0 L445.9,1007.7 L444.2,1006.3 L443.0,1005.8 L441.9,1004.8 L439.6,1004.3 L438.8,1003.3 L437.5,1002.0 L435.2,1000.5 L434.8,998.7 L433.7,997.6 L431.6,996.7 L429.9,998.1 L428.9,998.3 L427.6,999.2 L425.9,1000.1 L424.1,999.4 L421.5,999.0 L419.8,1000.2 L419.8,1001.8 L419.8,1003.0 L417.7,1004.4 L415.0,1005.4 L412.7,1008.5 L413.5,1010.9 L411.9,1012.7 L411.4,1013.7 L409.1,1015.2 L408.3,1015.7 L403.9,1015.8 L401.9,1017.2 L401.4,1017.5 L400.1,1016.3 L398.6,1014.6 L397.6,1014.6 L394.4,1015.1 L394.6,1011.7 L393.2,1010.9 L394.0,1008.8 L394.6,1005.8 L394.6,1003.0 L393.8,1000.2 L396.3,998.5 L400.9,998.7 L405.1,999.1 L409.3,999.4 L410.4,996.4 L410.6,993.3 L410.4,992.0 L408.7,989.6 L407.2,988.5 L403.9,987.7 L403.3,986.1 L405.8,985.0 L408.9,985.6 L410.0,985.4 L409.3,982.7 L410.6,983.4 L413.3,983.4 L416.3,981.5 L416.5,979.3 L418.4,978.7 L420.3,977.9 L421.7,976.2 L423.0,973.7 L424.7,972.5 L427.8,972.2 L430.1,971.7 L431.2,970.8 L431.6,969.7 L431.2,967.9 L430.1,966.2 L430.4,962.6 L431.2,961.4 L433.9,959.9 L435.4,959.6 L434.8,962.3 L436.0,963.5 L434.6,965.3 L433.5,967.0 L433.9,968.2 L436.0,969.7 L436.2,970.5 L438.5,970.1 L441.3,969.1 L443.0,970.8 L447.2,969.7 L451.6,968.2 L452.4,969.4 L454.9,969.2 L454.9,967.9 L457.2,966.7 L457.3,964.4 L457.2,962.3 L458.5,960.2 L460.6,959.6 L462.1,961.5 L463.8,961.5 L464.4,959.0 L464.2,957.8 L462.5,956.5 L462.3,955.0 L465.2,954.0 L468.8,953.9 L471.5,954.0 L473.6,953.0 L472.8,951.2 L469.8,950.9 L465.6,951.9 L461.4,952.8 L460.0,951.2 L458.1,950.3 L458.1,947.7 L457.9,944.8 L458.5,942.2 L461.4,939.8 L464.6,937.1 L466.5,935.8 L466.3,934.4 L464.0,933.4 L460.0,933.4 L457.9,937.5 L456.2,940.2 L453.0,942.2 L450.7,944.1 L449.5,947.1 L449.3,950.3 L452.2,951.9 L452.8,953.1 L451.2,954.7 L448.8,956.7 L448.2,959.3 L447.8,962.3 L446.9,964.1 L444.0,964.2 L443.0,966.2 L440.2,966.4 L440.0,964.1 L439.0,962.0 L438.1,959.6 L436.9,955.9 L436.4,955.3 L435.4,954.4 L435.0,954.7 L433.3,955.9 L430.4,958.4 L427.8,958.7 L425.1,956.8 L423.8,953.1 L423.6,949.3 L423.8,946.1 L426.8,943.5 L428.9,942.5 L431.6,940.5 L434.1,939.5 L436.2,936.8 L439.0,934.1 L440.4,930.9 L442.5,928.5 L444.6,925.6 L446.7,923.4 L449.9,921.2 L453.0,919.0 L457.2,917.9 L462.5,915.6 L467.1,914.1 L471.9,914.4 L476.1,916.0 L478.2,917.1 L476.1,919.0Z"/>
<path d="M400.7,1018.0 L402.0,1017.8 L403.7,1019.4 L406.8,1019.2 L408.5,1019.7 L411.0,1018.3 L411.9,1018.3 L415.2,1016.3 L419.4,1015.6 L423.8,1015.6 L427.8,1015.1 L431.2,1015.2 L433.7,1014.4 L436.2,1015.0 L435.2,1016.6 L435.4,1018.5 L436.4,1019.4 L434.3,1021.6 L436.4,1024.2 L437.4,1024.3 L439.4,1025.0 L440.9,1024.9 L445.1,1026.1 L446.3,1028.4 L448.0,1028.8 L450.9,1030.0 L453.7,1030.9 L455.4,1029.3 L455.4,1026.8 L458.5,1024.9 L461.7,1025.6 L465.6,1027.2 L466.0,1027.8 L470.5,1028.5 L474.0,1029.7 L476.1,1028.6 L478.2,1028.0 L481.0,1028.7 L485.1,1028.6 L486.4,1032.8 L485.4,1036.2 L485.0,1036.8 L483.7,1035.5 L482.9,1034.8 L481.8,1032.3 L481.5,1031.7 L481.2,1032.8 L482.5,1035.5 L483.7,1037.3 L484.3,1038.5 L485.2,1040.9 L487.1,1044.3 L487.7,1045.4 L488.1,1047.4 L490.6,1049.6 L491.3,1051.8 L491.3,1054.9 L491.9,1057.1 L494.0,1058.4 L495.5,1062.7 L496.1,1063.8 L497.6,1065.0 L499.9,1067.0 L502.4,1068.7 L503.7,1069.8 L504.1,1071.5 L503.0,1072.2 L504.0,1072.4 L506.2,1074.7 L507.7,1074.5 L510.8,1073.9 L515.9,1072.8 L519.8,1071.4 L520.8,1071.6 L520.5,1074.5 L519.8,1076.8 L517.7,1080.4 L515.9,1084.2 L514.0,1087.1 L510.0,1091.5 L508.4,1092.3 L504.5,1095.3 L502.4,1097.6 L500.4,1100.1 L497.6,1102.3 L496.4,1105.1 L495.5,1106.5 L494.6,1109.2 L496.1,1111.1 L495.7,1114.5 L496.7,1117.7 L498.1,1118.7 L498.4,1123.0 L498.8,1127.3 L497.4,1130.9 L493.4,1133.3 L490.6,1134.6 L489.2,1136.8 L486.4,1138.8 L487.3,1142.5 L487.7,1146.9 L487.3,1149.1 L483.5,1150.9 L481.6,1152.5 L482.2,1154.4 L481.4,1158.1 L478.5,1161.2 L476.1,1164.6 L472.8,1167.8 L469.8,1169.9 L467.0,1170.9 L462.5,1171.0 L459.3,1171.1 L455.1,1172.8 L452.6,1171.7 L451.9,1171.1 L451.6,1168.1 L451.4,1165.5 L449.5,1161.6 L447.7,1158.3 L445.1,1154.5 L444.4,1150.2 L443.6,1145.5 L441.3,1140.9 L438.3,1135.2 L437.8,1133.2 L438.3,1129.4 L439.4,1125.1 L441.3,1123.0 L442.1,1119.8 L441.1,1116.2 L440.9,1115.1 L439.2,1110.5 L438.9,1109.3 L438.8,1108.7 L438.3,1107.1 L436.4,1104.9 L433.5,1101.6 L432.0,1098.7 L431.6,1098.1 L432.7,1096.6 L433.1,1095.3 L433.3,1094.4 L432.8,1091.8 L433.7,1090.1 L433.2,1088.4 L431.8,1087.0 L431.0,1087.0 L428.0,1087.3 L425.7,1087.5 L424.3,1085.4 L422.6,1083.3 L420.3,1083.1 L418.8,1083.2 L416.5,1083.5 L415.6,1083.8 L413.8,1084.5 L412.7,1084.9 L409.6,1086.4 L407.0,1086.0 L406.6,1085.9 L404.7,1085.5 L400.5,1086.5 L397.4,1087.4 L393.8,1085.6 L390.4,1083.3 L389.0,1082.0 L386.9,1081.0 L385.2,1078.7 L385.2,1077.5 L384.3,1076.6 L382.5,1074.7 L381.4,1073.4 L379.3,1071.5 L378.0,1070.5 L377.8,1068.9 L377.8,1068.2 L376.4,1065.5 L377.8,1063.8 L378.5,1062.6 L379.3,1059.4 L379.4,1058.1 L378.9,1055.5 L378.5,1055.1 L377.3,1052.2 L377.6,1050.1 L379.5,1045.8 L381.8,1043.6 L382.7,1040.5 L385.4,1036.9 L386.0,1036.3 L389.0,1035.3 L391.7,1033.2 L392.8,1030.7 L392.5,1028.4 L393.6,1025.8 L395.3,1023.9 L397.2,1023.2 L398.8,1022.2 L400.1,1019.9Z"/>
</clipPath></defs>
<g stroke-linejoin="round">
<path d="M116.9,919.5 L121.1,920.1 L124.9,922.1 L128.5,920.8 L133.7,920.1 L137.9,918.6 L141.1,918.2 L144.2,916.3 L146.3,917.5 L149.5,920.5 L152.0,920.5 L151.6,917.9 L156.8,919.0 L162.1,920.8 L168.4,922.1 L172.6,924.9 L170.9,926.3 L174.7,926.7 L181.0,926.0 L184.6,927.8 L186.3,925.6 L189.8,924.1 L193.6,925.6 L197.8,926.3 L202.0,926.3 L206.2,926.3 L208.3,923.8 L211.3,924.9 L211.5,928.1 L212.9,925.6 L215.7,923.4 L211.9,920.1 L210.4,917.5 L211.5,913.7 L214.4,910.8 L217.8,913.3 L219.9,916.0 L219.4,919.4 L222.0,920.5 L223.4,924.1 L226.8,925.6 L228.3,922.7 L231.4,926.3 L233.5,923.1 L233.5,919.7 L237.7,919.4 L241.7,921.2 L242.3,925.6 L239.6,929.2 L242.1,929.2 L237.7,931.6 L233.5,930.8 L231.4,932.7 L231.0,935.1 L228.7,937.5 L226.2,939.5 L223.0,940.5 L220.3,943.5 L217.8,946.1 L215.7,949.0 L214.2,952.2 L214.2,955.8 L217.3,956.4 L218.6,961.7 L222.4,961.1 L227.2,962.6 L230.4,964.7 L234.6,966.7 L240.2,967.2 L240.5,972.0 L240.7,973.7 L242.3,975.7 L243.8,977.3 L245.5,978.5 L247.4,977.6 L248.0,974.8 L247.2,972.0 L247.0,969.9 L245.7,968.5 L249.7,966.7 L252.0,964.1 L252.2,960.8 L250.5,957.8 L248.2,956.2 L250.5,953.1 L250.1,950.0 L249.3,947.4 L249.7,944.8 L254.5,945.1 L258.1,944.8 L262.3,947.7 L266.1,949.3 L267.1,952.8 L266.9,955.6 L269.6,957.1 L271.8,957.4 L274.5,955.9 L276.4,952.8 L277.4,951.2 L278.7,954.0 L280.8,957.1 L283.3,960.5 L284.1,963.8 L286.9,966.4 L290.9,968.2 L292.8,969.4 L293.4,971.7 L295.9,973.4 L296.1,975.9 L293.6,977.8 L290.2,978.5 L287.1,980.9 L283.3,981.4 L279.1,980.9 L274.1,981.2 L272.0,983.4 L269.0,984.8 L266.5,986.9 L264.4,989.3 L263.6,990.3 L265.7,989.9 L268.2,987.5 L271.3,985.0 L274.5,984.0 L277.4,984.2 L278.1,985.3 L276.0,987.2 L273.6,987.1 L275.1,988.3 L276.8,989.1 L276.6,991.4 L277.6,992.0 L279.3,992.8 L281.8,993.5 L283.9,993.3 L285.0,991.2 L286.2,989.9 L287.3,992.0 L286.7,993.3 L284.4,994.5 L280.8,995.9 L278.3,996.9 L275.7,998.7 L274.3,998.2 L274.7,996.1 L277.4,994.3 L276.8,993.8 L274.5,994.6 L272.4,995.4 L272.4,995.4 L271.5,994.3 L270.7,993.0 L270.7,989.6 L269.6,988.9 L267.8,988.7 L266.1,990.7 L265.4,992.0 L264.4,994.3 L262.9,995.1 L256.2,995.1 L255.6,995.4 L252.8,997.2 L251.8,998.7 L246.8,999.0 L247.0,999.5 L247.2,1000.8 L239.4,1003.5 L238.6,1002.5 L239.8,1001.3 L240.7,998.7 L239.8,994.3 L237.7,993.0 L237.5,992.2 L235.6,991.2 L235.0,990.1 L227.4,986.4 L224.9,987.2 L220.9,986.9 L217.8,985.6 L214.4,985.3 L213.1,983.4 L213.1,984.5 L155.2,984.5 L154.3,983.7 L151.0,981.2 L146.8,979.6 L144.9,977.6 L144.4,975.4 L142.6,972.5 L140.0,969.9 L139.8,967.6 L140.0,965.0 L136.3,962.9 L132.9,957.4 L129.7,954.7 L126.6,954.0 L124.3,955.9 L121.1,952.2 L120.7,951.4 L116.9,951.5 L116.9,919.5Z" fill="#34799a"/>
<path d="M155.2,984.5 L213.1,984.5 L213.1,983.4 L214.4,985.3 L217.8,985.6 L220.9,986.9 L224.9,987.2 L227.4,986.4 L235.0,990.1 L235.6,991.2 L237.5,992.2 L237.7,993.0 L239.8,994.3 L240.7,998.7 L239.8,1001.3 L238.6,1002.5 L239.4,1003.5 L247.2,1000.8 L247.0,999.5 L246.8,999.0 L251.8,998.7 L252.8,997.2 L255.6,995.4 L256.2,995.1 L262.9,995.1 L264.4,994.3 L265.4,992.0 L266.1,990.7 L267.8,988.7 L269.6,988.9 L270.7,989.6 L270.7,993.0 L271.5,994.3 L272.4,995.4 L269.2,996.9 L266.1,998.2 L264.6,1000.2 L264.4,1002.0 L266.1,1002.8 L266.1,1003.5 L264.6,1004.0 L262.9,1004.3 L260.0,1004.8 L257.9,1005.8 L257.7,1006.8 L257.3,1008.8 L255.8,1010.5 L254.5,1009.3 L255.4,1011.7 L253.7,1014.9 L252.8,1015.1 L253.5,1016.1 L254.5,1019.2 L252.2,1020.6 L249.5,1022.5 L246.8,1024.2 L243.2,1027.0 L242.1,1030.0 L242.3,1032.1 L243.8,1035.3 L245.1,1038.9 L244.7,1042.1 L243.2,1042.7 L241.3,1040.5 L239.4,1037.1 L239.4,1034.1 L237.3,1031.8 L236.0,1031.6 L233.9,1032.3 L231.4,1030.7 L228.3,1030.9 L225.5,1030.9 L224.7,1031.8 L225.7,1033.7 L223.6,1033.7 L221.3,1033.0 L219.2,1032.8 L216.1,1032.3 L214.0,1033.2 L211.5,1035.0 L208.9,1037.1 L208.7,1039.6 L209.0,1040.8 L206.8,1040.5 L204.9,1039.8 L204.1,1037.3 L202.4,1035.5 L201.2,1033.2 L200.1,1032.1 L198.2,1031.8 L197.4,1032.3 L196.5,1033.9 L194.7,1033.2 L193.2,1031.4 L192.6,1030.0 L189.6,1027.6 L185.8,1027.5 L185.8,1028.5 L179.8,1028.5 L172.0,1025.8 L172.2,1025.3 L167.1,1025.7 L166.7,1024.6 L164.4,1022.8 L164.2,1022.3 L162.7,1021.9 L160.0,1021.2 L159.8,1019.7 L157.1,1016.1 L155.8,1013.2 L154.7,1012.7 L153.3,1010.3 L152.0,1007.0 L152.4,1004.0 L151.6,1000.8 L152.4,997.7 L152.6,992.0 L152.4,990.1 L151.2,986.2 L154.5,986.8 L155.8,988.3 L155.6,986.1Z M116.9,919.5 L111.7,917.9 L106.4,917.5 L101.2,916.7 L93.8,915.0 L88.6,914.8 L84.2,913.1 L80.2,915.2 L76.0,916.7 L72.2,918.6 L70.3,920.8 L66.9,922.3 L63.6,924.3 L65.5,925.6 L68.6,927.0 L71.6,928.8 L73.2,930.9 L69.2,930.6 L65.7,931.3 L61.3,933.5 L60.1,934.1 L63.4,935.1 L63.8,937.5 L66.9,938.0 L71.1,938.2 L74.7,936.8 L75.3,939.8 L73.9,941.3 L69.9,942.7 L67.4,942.8 L65.9,945.5 L64.2,947.7 L66.1,950.6 L68.8,953.0 L71.8,952.5 L72.8,955.0 L73.2,956.7 L76.4,955.9 L79.5,957.4 L82.9,956.2 L82.3,959.9 L79.7,962.3 L76.0,964.7 L72.8,966.2 L69.7,967.6 L66.9,968.8 L70.3,968.5 L73.9,967.0 L77.0,965.9 L80.4,964.7 L84.2,961.7 L87.5,959.6 L90.0,956.8 L90.9,954.4 L93.2,951.9 L95.9,949.3 L98.0,948.7 L95.3,950.9 L94.2,954.4 L97.0,954.4 L99.5,952.8 L101.8,950.9 L103.9,949.3 L106.4,950.3 L109.6,952.2 L113.1,952.5 L116.3,952.8 L119.7,953.7 L123.2,955.9 L126.4,958.1 L128.5,960.8 L130.4,964.1 L133.3,966.7 L136.3,967.6 L139.8,967.6 L140.0,965.0 L136.3,962.9 L132.9,957.4 L129.7,954.7 L126.6,954.0 L124.3,955.9 L121.1,952.2 L120.7,951.4 L116.9,951.5 L116.9,919.5Z" fill="#4a7c91"/>
<path d="M167.1,1025.7 L172.2,1025.3 L172.0,1025.8 L179.8,1028.5 L185.8,1028.5 L185.8,1027.5 L189.6,1027.6 L192.6,1030.0 L193.2,1031.4 L194.7,1033.2 L196.5,1033.9 L197.4,1032.3 L198.2,1031.8 L200.1,1032.1 L201.2,1033.2 L202.4,1035.5 L204.1,1037.3 L204.9,1039.8 L206.8,1040.5 L209.0,1040.8 L208.1,1042.9 L207.7,1046.3 L207.7,1048.9 L208.7,1051.4 L210.4,1054.4 L211.5,1056.2 L213.6,1057.1 L214.8,1058.0 L217.8,1057.5 L220.3,1057.1 L222.4,1055.5 L223.2,1052.9 L223.4,1051.8 L227.2,1050.7 L230.2,1050.6 L230.8,1051.8 L229.5,1053.6 L229.1,1055.7 L228.1,1057.3 L227.6,1057.3 L225.9,1058.8 L222.0,1058.8 L222.0,1060.0 L223.0,1062.0 L223.2,1062.5 L220.5,1062.6 L219.4,1064.3 L219.4,1065.8 L216.7,1063.3 L214.6,1062.2 L212.5,1062.9 L210.4,1063.4 L207.7,1062.8 L205.2,1061.4 L203.1,1060.7 L199.3,1058.8 L195.7,1057.7 L193.8,1056.0 L191.5,1054.2 L191.9,1052.7 L191.9,1050.7 L190.9,1048.3 L189.4,1046.7 L186.7,1044.1 L184.6,1042.1 L183.3,1039.4 L181.0,1037.3 L179.9,1036.3 L177.4,1034.1 L176.2,1031.2 L175.5,1028.8 L173.6,1028.1 L172.0,1027.5 L172.0,1029.3 L173.2,1032.1 L175.3,1034.4 L176.4,1036.6 L178.5,1039.6 L179.5,1041.6 L180.8,1044.5 L182.9,1046.5 L182.3,1047.6 L181.0,1046.3 L178.5,1044.3 L177.4,1041.8 L175.7,1039.8 L173.2,1038.2 L171.8,1036.6 L173.2,1035.5 L171.5,1033.2 L169.9,1031.2 L168.8,1029.3 L167.6,1027.0Z" fill="#36809f"/>
<path d="M219.4,1065.8 L221.3,1067.1 L223.9,1067.5 L226.4,1068.5 L228.7,1068.7 L229.5,1069.2 L231.2,1071.0 L232.9,1073.2 L232.7,1074.9 L234.4,1076.4 L236.5,1076.8 L237.3,1078.5 L238.8,1079.2 L240.5,1079.1 L241.7,1080.1 L243.2,1081.2 L244.4,1081.0 L244.4,1079.2 L245.9,1077.8 L247.8,1077.8 L248.6,1079.3 L249.5,1081.3 L250.6,1078.4 L248.2,1076.8 L245.9,1076.4 L243.6,1077.6 L241.9,1078.0 L240.2,1077.2 L238.8,1075.5 L237.3,1073.6 L237.1,1071.5 L237.7,1069.1 L238.1,1066.5 L238.3,1064.8 L236.7,1063.2 L233.5,1062.9 L230.4,1063.1 L228.1,1063.3 L227.0,1062.9 L226.4,1062.9 L227.6,1061.4 L228.1,1059.4 L228.1,1057.3 L227.6,1057.3 L225.9,1058.8 L222.0,1058.8 L222.0,1060.0 L223.0,1062.0 L223.2,1062.5 L220.5,1062.6 L219.4,1064.3 L219.4,1065.8Z" fill="#3a86a6"/>
<path d="M250.6,1078.4 L251.7,1079.5 L252.8,1077.8 L254.3,1076.6 L254.5,1074.2 L255.9,1073.3 L257.3,1072.7 L259.4,1072.7 L261.5,1071.5 L263.3,1070.3 L263.3,1071.7 L262.1,1072.5 L262.7,1073.8 L261.9,1075.9 L263.6,1077.4 L264.0,1075.5 L263.1,1073.6 L265.7,1072.5 L265.7,1071.0 L266.7,1072.3 L269.4,1073.0 L269.9,1074.2 L273.9,1074.2 L276.4,1075.3 L278.1,1074.7 L280.8,1074.0 L283.1,1074.0 L281.6,1075.1 L283.7,1075.9 L285.4,1077.0 L285.2,1078.5 L287.3,1079.1 L290.0,1081.6 L292.8,1084.0 L295.7,1084.3 L298.6,1084.2 L299.9,1084.5 L302.0,1085.2 L304.3,1087.0 L305.4,1087.9 L306.2,1090.7 L308.1,1092.8 L307.3,1095.1 L305.6,1096.6 L308.1,1096.8 L311.0,1097.0 L312.3,1098.1 L315.4,1098.7 L318.8,1099.9 L319.9,1102.0 L322.2,1101.6 L325.3,1102.5 L329.1,1102.6 L332.3,1104.4 L335.0,1106.8 L338.8,1107.4 L339.6,1109.8 L340.0,1112.4 L339.2,1115.5 L336.7,1118.7 L334.8,1120.9 L332.5,1123.9 L331.2,1125.8 L331.2,1129.4 L330.8,1133.3 L329.7,1135.9 L329.5,1138.5 L327.6,1141.4 L327.0,1143.6 L324.9,1145.7 L322.4,1145.8 L319.4,1146.4 L317.8,1147.5 L315.7,1148.0 L312.5,1150.4 L311.0,1152.5 L311.0,1155.4 L310.6,1158.3 L308.5,1160.4 L306.8,1163.6 L304.1,1166.2 L302.6,1168.5 L301.0,1170.3 L300.1,1171.8 L297.8,1173.1 L295.1,1173.0 L291.7,1171.9 L290.3,1170.6 L290.4,1172.3 L293.0,1174.0 L292.8,1176.1 L294.0,1177.1 L292.1,1180.7 L289.2,1182.2 L283.9,1182.8 L282.5,1182.4 L282.3,1186.6 L281.2,1188.0 L277.0,1187.4 L276.4,1189.1 L276.6,1190.6 L279.3,1190.9 L279.5,1192.4 L276.8,1192.3 L276.0,1194.5 L275.3,1198.1 L271.8,1199.6 L271.1,1202.0 L274.9,1203.8 L274.7,1206.0 L271.1,1209.5 L268.4,1212.2 L267.8,1214.2 L269.4,1217.9 L267.1,1217.8 L264.2,1219.2 L264.2,1222.1 L260.8,1221.2 L257.7,1218.9 L255.6,1215.6 L256.0,1211.4 L254.5,1208.1 L256.6,1205.4 L254.3,1202.5 L256.4,1200.4 L258.7,1198.6 L259.8,1195.5 L260.2,1191.4 L259.6,1189.9 L257.9,1187.9 L258.3,1184.9 L259.1,1181.7 L258.5,1178.5 L260.2,1175.2 L261.9,1172.1 L262.7,1168.5 L262.9,1165.0 L262.9,1161.6 L263.3,1158.8 L264.2,1155.8 L264.8,1152.5 L265.2,1149.1 L265.0,1146.0 L265.9,1142.5 L265.8,1138.7 L265.3,1135.6 L263.1,1133.5 L260.2,1131.8 L257.0,1130.1 L255.2,1129.0 L252.8,1126.2 L252.8,1124.7 L251.1,1122.0 L249.9,1119.6 L248.0,1115.8 L246.5,1113.2 L245.3,1110.9 L242.8,1109.2 L242.3,1106.5 L244.2,1103.8 L245.3,1102.0 L244.4,1102.3 L243.2,1101.2 L243.5,1098.7 L244.9,1096.6 L245.1,1094.8 L247.2,1094.1 L247.6,1092.8 L248.4,1091.2 L249.9,1091.1 L251.2,1088.4 L250.5,1087.8 L250.7,1084.8 L250.3,1082.5 L249.5,1081.3Z" fill="#3a86a6"/>
<path d="M259.8,884.4 L270.3,880.7 L275.5,876.0 L271.3,873.1 L280.8,870.1 L283.9,865.1 L297.6,864.0 L313.3,863.8 L315.4,859.3 L329.1,858.0 L343.8,857.7 L356.4,859.3 L366.9,862.5 L360.6,866.1 L371.1,868.1 L383.7,867.6 L387.9,869.6 L377.4,875.0 L373.2,880.7 L374.3,885.3 L369.0,889.8 L373.2,892.8 L371.1,898.4 L373.2,901.3 L366.9,904.6 L364.8,908.6 L367.3,912.1 L361.7,913.7 L365.9,917.1 L360.6,919.7 L356.4,923.8 L350.1,925.2 L343.8,928.1 L339.6,932.0 L334.4,933.7 L329.1,935.4 L328.0,939.5 L324.9,943.5 L322.8,950.9 L320.7,952.8 L317.5,951.2 L311.2,949.3 L308.1,945.1 L304.9,939.5 L302.8,934.4 L300.3,929.2 L303.9,922.7 L306.0,919.0 L298.6,916.0 L303.9,914.4 L297.6,912.1 L296.5,906.6 L293.4,901.3 L290.2,896.3 L282.9,893.3 L274.5,894.1 L268.2,892.4 L264.0,888.9 L266.1,886.2Z" fill="#4ba5c8"/>
<path d="M362.1,934.1 L364.8,931.3 L368.0,934.4 L370.5,932.3 L374.3,932.2 L378.5,930.9 L382.2,932.0 L384.6,935.4 L382.2,938.2 L378.5,940.2 L373.6,941.5 L370.1,940.8 L365.7,940.0 L367.1,938.2 L362.7,936.5 L366.3,935.4Z" fill="#4496b8" stroke="#4496b8" stroke-width=".35"/>
<path d="M153.9,986.1 L151.0,985.6 L148.4,983.7 L144.7,981.2 L143.6,979.6 L145.9,979.8 L149.5,981.2 L151.2,983.1 L153.5,984.8Z" fill="#34799a" stroke="#34799a" stroke-width=".35"/>
<path d="M137.5,976.2 L134.8,973.4 L133.7,970.2 L136.3,970.5 L136.3,973.4Z" fill="#34799a" fill-opacity=".85"/>
<path d="M288.6,988.0 L291.3,988.3 L295.5,988.3 L296.5,990.1 L299.7,990.1 L301.6,990.7 L302.4,988.5 L301.2,986.4 L300.1,984.5 L299.7,983.1 L296.5,982.3 L295.5,980.9 L296.5,977.6 L294.0,978.5 L292.3,980.7 L290.9,983.7 L288.8,986.1Z" fill="#34799a" stroke="#34799a" stroke-width=".35"/>
<path d="M277.6,982.0 L281.8,983.1 L283.3,984.0 L279.7,983.7Z" fill="#34799a" fill-opacity=".85"/>
<path d="M278.3,990.4 L282.9,991.4 L281.8,992.5 L278.7,991.4Z" fill="#34799a" fill-opacity=".85"/>
<path d="M230.4,935.4 L233.5,932.7 L236.7,933.4 L240.9,937.5 L244.0,940.8 L238.8,941.2 L235.6,942.2 L232.5,940.5 L229.7,938.8Z" fill="#34799a" stroke="#34799a" stroke-width=".35"/>
<path d="M239.2,943.2 L244.4,944.5 L245.9,946.4 L241.3,945.1Z" fill="#34799a" fill-opacity=".85"/>
<path d="M275.5,946.4 L270.7,945.5 L264.4,943.5 L260.2,940.2 L256.6,938.2 L252.4,938.5 L249.3,937.5 L249.7,935.1 L255.6,935.1 L258.1,934.4 L256.8,932.0 L260.2,929.2 L259.8,925.6 L255.6,924.1 L252.4,922.0 L249.3,919.0 L246.1,918.6 L240.9,918.6 L235.6,918.2 L231.4,917.5 L227.2,916.3 L225.1,914.1 L224.5,909.8 L226.2,905.8 L230.4,903.8 L234.6,904.6 L240.9,903.8 L244.0,905.4 L243.6,909.0 L249.3,907.4 L253.5,907.8 L256.6,910.9 L261.9,912.9 L265.0,915.6 L269.6,917.1 L272.4,920.5 L269.9,923.8 L274.5,925.6 L279.7,928.5 L283.9,930.6 L282.9,933.7 L279.5,936.5 L276.6,934.4 L272.4,933.4 L271.3,936.5 L275.5,939.8 L277.2,942.8 L273.4,942.2 L270.3,941.2 L274.5,944.8Z" fill="#34799a" stroke="#34799a" stroke-width=".35"/>
<path d="M199.3,919.4 L196.8,922.7 L191.5,921.6 L186.3,923.1 L181.0,923.4 L174.7,923.6 L169.4,922.0 L166.7,918.6 L171.5,917.1 L176.8,917.5 L173.6,915.6 L166.3,916.0 L164.2,913.7 L167.3,912.5 L163.1,910.6 L165.2,907.4 L171.5,905.4 L173.0,907.8 L178.9,909.0 L182.1,907.0 L185.2,905.6 L188.4,905.8 L191.9,907.4 L193.0,911.3 L193.6,914.8 L198.9,917.1 L201.2,918.6Z" fill="#34799a" stroke="#34799a" stroke-width=".35"/>
<path d="M154.3,914.1 L149.5,910.8 L148.9,907.0 L152.0,902.5 L157.9,900.5 L164.2,901.7 L170.5,905.0 L166.5,907.4 L162.7,910.9 L160.0,912.9Z" fill="#34799a" stroke="#34799a" stroke-width=".35"/>
<path d="M167.3,897.1 L169.4,893.3 L175.7,893.3 L182.1,892.4 L184.2,890.6 L190.5,894.1 L191.5,897.1 L189.4,898.8 L182.1,899.2 L175.7,900.5 L172.6,898.8 L179.9,897.1 L173.6,896.3Z" fill="#34799a" stroke="#34799a" stroke-width=".35"/>
<path d="M155.8,894.1 L163.1,888.4 L169.4,887.5 L169.4,891.1 L164.2,894.1 L160.0,894.6Z" fill="#34799a" stroke="#34799a" stroke-width=".35"/>
<path d="M194.7,883.9 L203.1,882.1 L205.2,885.7 L197.8,886.6Z" fill="#34799a" stroke="#34799a" stroke-width=".35"/>
<path d="M208.3,882.1 L213.6,885.3 L209.4,886.2Z" fill="#34799a" fill-opacity=".85"/>
<path d="M177.8,886.2 L182.1,884.8 L182.1,888.4 L176.8,888.0Z" fill="#34799a" fill-opacity=".85"/>
<path d="M194.7,896.7 L198.9,891.5 L205.2,891.5 L207.7,894.1 L206.2,898.4 L202.0,898.4 L197.8,895.8Z" fill="#34799a" stroke="#34799a" stroke-width=".35"/>
<path d="M210.4,897.1 L215.7,895.8 L216.7,899.2 L212.5,899.6Z" fill="#34799a" stroke="#34799a" stroke-width=".35"/>
<path d="M219.9,899.2 L219.9,894.6 L222.0,891.5 L225.1,892.4 L228.3,895.8 L234.6,895.4 L240.9,895.0 L245.1,895.8 L245.5,898.8 L240.9,900.5 L234.6,900.5 L227.2,900.5 L222.0,899.6Z" fill="#34799a" stroke="#34799a" stroke-width=".35"/>
<path d="M212.5,910.6 L211.9,906.6 L212.5,902.9 L217.8,901.7 L223.0,902.9 L224.1,906.6 L219.9,907.8 L216.1,910.6Z" fill="#34799a" stroke="#34799a" stroke-width=".35"/>
<path d="M205.2,912.9 L199.3,909.4 L197.8,906.6 L202.0,902.9 L207.3,903.4 L209.4,906.6 L210.4,910.6 L207.3,912.9Z" fill="#34799a" stroke="#34799a" stroke-width=".35"/>
<path d="M204.1,921.6 L206.2,918.8 L210.4,920.1 L212.5,922.3 L208.3,923.8 L205.2,922.3Z" fill="#34799a" stroke="#34799a" stroke-width=".35"/>
<path d="M225.1,892.0 L230.4,889.3 L228.3,886.2 L234.6,887.5 L229.3,884.4 L233.5,880.7 L230.4,877.9 L234.6,874.5 L240.9,873.6 L229.3,872.6 L222.0,870.1 L219.9,866.6 L230.4,864.6 L240.9,862.5 L253.5,860.4 L266.1,860.4 L278.7,862.0 L283.9,864.6 L277.6,868.6 L272.4,871.1 L266.1,874.5 L260.8,876.9 L254.5,879.8 L255.6,883.5 L250.3,886.2 L249.3,889.8 L245.1,892.8 L238.8,892.4 L232.5,892.8Z" fill="#34799a" stroke="#34799a" stroke-width=".35"/>
<path d="M222.0,884.4 L214.6,879.3 L211.5,873.6 L217.8,869.6 L223.0,873.1 L228.7,875.5 L227.6,880.7 L225.1,883.9Z" fill="#34799a" stroke="#34799a" stroke-width=".35"/>
<path d="M244.0,904.2 L249.3,904.2 L252.4,906.2 L248.2,907.0Z" fill="#34799a" fill-opacity=".85"/>
<path d="M234.8,1049.9 L236.7,1048.1 L239.2,1047.3 L242.6,1047.1 L245.1,1047.5 L247.8,1048.7 L250.7,1050.3 L253.5,1051.6 L255.6,1052.5 L257.3,1053.6 L255.2,1054.2 L251.4,1054.2 L249.9,1054.3 L251.0,1052.7 L248.6,1052.7 L247.6,1050.7 L244.4,1050.1 L241.3,1049.2 L239.2,1048.3 L237.1,1049.3Z" fill="#3a86a6" stroke="#3a86a6" stroke-width=".35"/>
<path d="M256.7,1057.5 L258.9,1057.7 L261.2,1057.1 L260.2,1055.5 L258.9,1054.4 L260.4,1054.2 L262.5,1054.4 L265.0,1054.5 L266.9,1055.5 L269.5,1057.1 L268.2,1057.6 L265.0,1057.9 L263.1,1059.2 L261.9,1058.0 L258.7,1058.0Z" fill="#3a86a6" stroke="#3a86a6" stroke-width=".35"/>
<path d="M248.5,1057.7 L250.3,1057.3 L252.8,1058.1 L251.6,1058.7 L249.3,1058.5Z" fill="#3a86a6" fill-opacity=".85"/>
<path d="M272.0,1057.4 L275.3,1057.5 L274.9,1058.4 L272.0,1058.4Z" fill="#3a86a6" fill-opacity=".85"/>
<path d="M248.2,1039.1 L251.0,1039.4 L251.4,1040.3 L249.7,1039.7Z" fill="#3a86a6" fill-opacity=".85"/>
<path d="M248.6,1042.7 L249.7,1044.7 L250.1,1044.3 L249.3,1042.7Z" fill="#3a86a6" fill-opacity=".85"/>
<path d="M283.1,1074.0 L285.0,1073.8 L285.0,1075.3 L283.1,1075.3Z" fill="#3a86a6" fill-opacity=".85"/>
<path d="M269.2,1218.8 L269.9,1220.6 L272.0,1222.9 L276.2,1224.5 L273.4,1225.7 L269.6,1226.7 L266.1,1226.1 L262.9,1224.1 L260.8,1222.6 L264.0,1222.6 L265.4,1220.6 L267.1,1218.9Z" fill="#3a86a6" stroke="#3a86a6" stroke-width=".35"/>
<path d="M257.5,1189.9 L258.7,1190.9 L258.3,1193.9 L256.8,1193.4Z" fill="#3a86a6" fill-opacity=".85"/>
<path d="M88.6,961.1 L91.3,958.7 L93.4,959.6 L90.7,962.0Z" fill="#4a7c91" fill-opacity=".85"/>
<path d="M808.7,941.2 L812.7,941.8 L814.8,941.8 L811.2,940.5Z" fill="#4a7c91" fill-opacity=".85"/>
<path d="M61.7,952.2 L64.8,951.5 L65.0,952.8Z" fill="#4a7c91" fill-opacity=".85"/>
<path d="M60.6,972.5 L63.8,970.8 L63.4,970.5 L60.2,972.0Z" fill="#4a7c91" fill-opacity=".85"/>
<path d="M85.4,1056.2 L87.7,1054.9 L85.6,1053.5Z" fill="#4a7c91" fill-opacity=".85"/>
<path d="M83.9,1052.0 L85.4,1052.2 L84.6,1052.7Z" fill="#4a7c91" fill-opacity=".85"/>
<path d="M477.8,919.0 L482.5,920.5 L488.8,921.6 L494.0,924.5 L499.3,927.8 L499.7,930.9 L496.1,932.3 L488.8,931.6 L483.5,930.1 L481.6,928.8 L486.0,932.7 L486.2,936.1 L489.8,939.5 L492.5,939.8 L493.0,936.5 L496.7,937.5 L498.2,937.5 L497.2,934.1 L501.4,931.3 L505.6,932.3 L505.1,928.5 L504.1,923.4 L507.7,924.1 L509.8,926.0 L508.3,929.2 L511.9,929.5 L515.0,926.7 L520.3,924.1 L524.5,922.3 L527.6,924.5 L532.9,923.4 L537.1,922.3 L540.2,919.0 L543.4,919.4 L548.6,922.0 L551.8,922.7 L556.0,924.5 L558.1,922.3 L553.9,918.2 L553.5,913.3 L557.0,907.4 L560.2,905.4 L565.4,907.4 L566.1,912.5 L564.4,918.2 L566.5,923.4 L564.4,930.6 L567.5,929.9 L569.6,925.6 L571.7,922.0 L568.6,916.3 L568.6,910.6 L571.7,908.2 L574.9,909.8 L578.0,909.0 L582.2,910.6 L586.4,911.7 L588.1,915.2 L588.5,911.3 L584.3,906.6 L583.3,904.2 L589.6,903.4 L594.8,902.5 L595.9,898.4 L602.2,895.8 L608.5,894.6 L614.8,893.7 L621.1,892.0 L625.3,889.8 L632.2,886.6 L636.9,888.4 L640.0,890.6 L646.3,891.1 L651.6,894.1 L650.9,899.2 L646.3,901.3 L649.5,903.4 L642.1,904.6 L636.9,905.8 L644.2,902.9 L651.6,904.6 L656.8,903.8 L663.1,906.2 L671.5,904.2 L677.8,904.2 L684.1,906.6 L684.7,911.7 L688.3,915.2 L692.5,912.1 L698.8,912.1 L705.1,912.5 L707.2,908.6 L713.5,907.8 L719.8,909.4 L728.2,912.1 L732.4,914.8 L738.7,914.4 L742.9,914.4 L749.2,918.2 L753.4,919.7 L759.7,920.1 L766.0,918.6 L771.3,922.0 L770.2,922.7 L772.3,918.2 L776.5,919.0 L782.9,919.0 L789.2,922.0 L791.3,922.3 L797.6,924.5 L803.9,928.1 L809.1,929.5 L812.9,932.3 L810.2,934.4 L807.0,938.2 L801.8,936.8 L795.5,934.4 L791.3,936.1 L787.1,937.8 L785.0,937.1 L786.0,938.8 L790.2,944.5 L785.0,944.5 L778.6,947.1 L774.4,949.3 L771.3,952.5 L766.0,951.5 L761.8,953.1 L756.6,952.8 L755.5,957.1 L753.4,959.3 L755.5,962.6 L753.4,964.7 L753.0,967.6 L749.2,969.7 L749.2,973.4 L746.1,973.7 L745.0,976.8 L742.3,979.3 L741.9,974.8 L740.0,967.6 L740.8,961.7 L744.0,958.7 L748.2,954.0 L752.4,950.9 L755.5,947.7 L756.6,945.1 L750.3,946.8 L748.8,950.3 L742.3,947.7 L737.7,953.4 L732.4,955.6 L726.1,954.0 L718.8,954.7 L712.5,955.0 L708.3,959.3 L703.0,963.8 L697.1,968.2 L702.0,970.5 L705.1,970.8 L709.3,972.5 L707.9,977.6 L708.3,981.8 L707.6,986.1 L704.1,991.2 L699.9,996.4 L694.6,1000.2 L691.5,999.7 L688.3,1001.3 L687.7,1002.0 L685.6,1004.0 L685.6,1005.8 L681.6,1008.3 L680.8,1009.8 L682.9,1011.2 L685.0,1015.1 L685.2,1018.5 L684.1,1019.7 L681.4,1020.6 L678.7,1021.3 L678.7,1018.0 L679.3,1015.1 L678.0,1013.3 L675.7,1012.9 L676.3,1011.0 L676.1,1009.0 L674.5,1008.0 L673.6,1008.3 L669.4,1010.0 L667.7,1010.9 L668.8,1007.8 L669.8,1006.5 L667.7,1005.5 L664.2,1008.3 L661.0,1009.8 L660.4,1011.5 L662.9,1013.7 L664.2,1014.8 L666.7,1013.2 L670.5,1014.2 L670.3,1015.4 L666.7,1016.8 L663.7,1019.9 L665.8,1021.8 L667.1,1024.9 L669.2,1027.7 L669.2,1029.5 L666.3,1030.9 L669.4,1031.6 L668.6,1034.1 L666.7,1036.4 L664.6,1040.7 L663.1,1042.3 L661.2,1044.1 L658.9,1046.1 L655.8,1048.1 L653.0,1048.9 L651.6,1049.2 L648.4,1050.3 L645.3,1051.2 L645.0,1053.1 L643.8,1053.3 L643.8,1050.7 L641.1,1050.3 L640.0,1050.7 L637.3,1052.2 L635.8,1054.2 L635.2,1056.4 L636.9,1059.0 L639.0,1061.4 L640.6,1062.7 L642.1,1064.8 L642.7,1068.0 L642.9,1070.8 L642.1,1072.5 L638.5,1074.4 L637.3,1076.1 L634.3,1078.3 L633.3,1078.5 L633.7,1075.5 L632.4,1074.7 L630.6,1074.2 L629.5,1072.7 L629.3,1071.9 L627.8,1070.6 L625.3,1069.8 L625.1,1068.0 L624.2,1068.0 L623.2,1068.5 L623.2,1071.2 L621.7,1073.8 L621.5,1076.6 L623.2,1078.7 L624.2,1081.2 L626.3,1082.1 L627.6,1083.5 L630.3,1086.5 L630.6,1090.3 L632.0,1093.6 L630.3,1093.6 L627.4,1091.5 L625.9,1090.3 L624.5,1088.2 L623.8,1085.0 L623.4,1082.9 L621.7,1080.8 L620.0,1079.3 L619.6,1077.6 L620.5,1074.9 L620.3,1071.7 L620.0,1068.5 L619.0,1067.0 L618.4,1063.8 L618.2,1061.6 L616.7,1060.7 L614.8,1062.0 L613.3,1063.1 L611.2,1062.7 L611.6,1059.4 L611.0,1056.8 L610.0,1054.4 L608.1,1052.9 L607.0,1052.2 L606.4,1050.5 L606.0,1048.7 L603.9,1048.5 L602.2,1049.6 L600.1,1050.1 L598.0,1050.3 L595.9,1050.9 L595.5,1052.9 L593.8,1054.2 L591.7,1055.5 L588.5,1058.6 L586.0,1061.2 L583.3,1063.1 L581.6,1064.2 L581.4,1067.4 L581.8,1069.1 L581.0,1071.7 L580.8,1074.9 L579.5,1077.0 L577.4,1077.8 L575.9,1079.5 L573.8,1077.6 L572.8,1074.4 L571.3,1071.2 L570.0,1068.0 L569.0,1064.8 L567.5,1061.6 L566.5,1058.4 L566.1,1056.2 L565.8,1052.9 L565.6,1050.7 L564.6,1051.4 L562.3,1052.2 L560.6,1051.8 L558.1,1048.9 L560.6,1047.6 L557.7,1046.7 L556.4,1045.8 L554.7,1045.2 L553.2,1042.9 L552.8,1042.1 L548.6,1042.5 L544.4,1042.5 L542.5,1042.7 L540.2,1042.3 L537.1,1042.1 L534.5,1041.4 L532.9,1038.9 L531.4,1038.2 L528.7,1039.1 L526.6,1039.4 L523.6,1037.3 L521.1,1036.2 L519.8,1033.9 L518.6,1031.6 L517.1,1031.4 L515.9,1030.9 L515.2,1031.6 L514.0,1031.7 L513.9,1033.2 L514.8,1035.0 L515.9,1037.1 L517.3,1038.2 L518.4,1039.4 L518.6,1041.4 L519.8,1043.4 L519.8,1041.8 L520.7,1040.5 L521.5,1041.2 L521.5,1043.8 L520.9,1044.5 L523.6,1044.7 L526.6,1045.0 L528.7,1042.9 L530.8,1040.7 L531.6,1040.0 L531.6,1042.9 L532.2,1044.3 L534.5,1045.6 L536.2,1046.1 L538.7,1048.5 L538.7,1049.6 L536.2,1053.1 L534.5,1053.6 L534.5,1056.2 L532.0,1057.1 L529.7,1058.8 L527.6,1060.5 L524.7,1061.3 L522.8,1063.5 L518.2,1064.8 L515.4,1066.9 L511.9,1068.3 L507.7,1069.5 L504.5,1069.9 L504.1,1068.5 L503.2,1065.3 L503.0,1061.8 L502.0,1059.7 L499.7,1056.8 L497.6,1053.6 L495.5,1050.9 L494.0,1046.1 L491.5,1043.6 L490.2,1040.7 L487.9,1037.5 L486.4,1036.0 L486.7,1032.8 L486.4,1032.8 L485.1,1028.6 L485.8,1027.5 L486.7,1025.1 L486.9,1024.4 L487.7,1022.5 L488.5,1020.8 L488.3,1018.0 L489.2,1016.1 L487.9,1016.1 L485.8,1015.6 L483.9,1017.2 L481.6,1017.4 L480.4,1016.2 L477.4,1015.5 L477.0,1016.9 L474.3,1016.6 L472.4,1015.6 L470.7,1015.1 L470.3,1012.9 L468.4,1012.0 L469.4,1010.3 L468.0,1009.0 L468.2,1007.7 L470.9,1006.9 L474.0,1006.8 L475.9,1005.9 L474.3,1004.8 L478.9,1005.0 L483.1,1002.8 L486.9,1002.7 L489.8,1004.5 L493.6,1005.4 L497.2,1005.3 L500.3,1004.0 L500.5,1002.0 L497.8,999.7 L496.5,999.0 L493.0,996.7 L491.5,995.1 L490.6,994.7 L493.0,992.5 L495.5,989.9 L492.1,989.6 L487.5,991.4 L486.4,992.8 L489.6,994.2 L487.5,995.1 L485.0,996.5 L483.5,996.3 L481.6,994.2 L483.7,992.5 L480.8,992.1 L479.9,990.8 L477.8,991.2 L475.5,994.3 L473.4,997.7 L473.2,999.0 L471.3,1001.3 L471.9,1002.8 L474.3,1004.7 L472.4,1005.4 L470.9,1005.3 L469.2,1006.5 L468.2,1007.5 L468.0,1006.2 L466.1,1005.5 L463.5,1005.9 L463.5,1007.5 L462.3,1007.2 L461.2,1006.5 L460.6,1008.0 L461.9,1009.9 L461.2,1010.7 L463.5,1012.7 L462.9,1012.9 L461.4,1012.9 L461.9,1014.4 L461.7,1016.3 L460.2,1016.3 L458.7,1015.6 L457.7,1013.2 L458.9,1012.0 L457.5,1011.7 L456.6,1010.3 L455.4,1008.8 L454.9,1007.8 L453.7,1006.5 L453.9,1004.0 L453.7,1003.0 L452.0,1001.6 L449.5,1000.2 L446.7,999.0 L445.1,997.2 L444.4,995.1 L443.2,994.3 L442.3,995.6 L441.5,993.8 L441.9,993.2 L439.2,994.1 L439.0,995.6 L439.4,997.4 L441.7,999.0 L443.0,1001.8 L445.1,1003.0 L446.7,1003.0 L446.5,1004.0 L448.8,1005.3 L452.0,1007.3 L451.6,1008.3 L449.0,1006.5 L448.0,1008.3 L449.0,1010.3 L447.8,1011.7 L446.9,1012.8 L446.0,1012.5 L446.5,1010.7 L446.7,1009.0 L445.9,1007.7 L444.2,1006.3 L443.0,1005.8 L441.9,1004.8 L439.6,1004.3 L438.8,1003.3 L437.5,1002.0 L435.2,1000.5 L434.8,998.7 L433.7,997.6 L431.6,996.7 L429.9,998.1 L428.9,998.3 L427.6,999.2 L425.9,1000.1 L424.1,999.4 L421.5,999.0 L419.8,1000.2 L419.8,1001.8 L419.8,1003.0 L417.7,1004.4 L415.0,1005.4 L412.7,1008.5 L413.5,1010.9 L411.9,1012.7 L411.4,1013.7 L409.1,1015.2 L408.3,1015.7 L403.9,1015.8 L401.9,1017.2 L401.4,1017.5 L400.1,1016.3 L398.6,1014.6 L397.6,1014.6 L394.4,1015.1 L394.6,1011.7 L393.2,1010.9 L394.0,1008.8 L394.6,1005.8 L394.6,1003.0 L393.8,1000.2 L396.3,998.5 L400.9,998.7 L405.1,999.1 L409.3,999.4 L410.4,996.4 L410.6,993.3 L410.4,992.0 L408.7,989.6 L407.2,988.5 L403.9,987.7 L403.3,986.1 L405.8,985.0 L408.9,985.6 L410.0,985.4 L409.3,982.7 L410.6,983.4 L413.3,983.4 L416.3,981.5 L416.5,979.3 L418.4,978.7 L420.3,977.9 L421.7,976.2 L423.0,973.7 L424.7,972.5 L427.8,972.2 L430.1,971.7 L431.2,970.8 L431.6,969.7 L431.2,967.9 L430.1,966.2 L430.4,962.6 L431.2,961.4 L433.9,959.9 L435.4,959.6 L434.8,962.3 L436.0,963.5 L434.6,965.3 L433.5,967.0 L433.9,968.2 L436.0,969.7 L436.2,970.5 L438.5,970.1 L441.3,969.1 L443.0,970.8 L447.2,969.7 L451.6,968.2 L452.4,969.4 L454.9,969.2 L454.9,967.9 L457.2,966.7 L457.3,964.4 L457.2,962.3 L458.5,960.2 L460.6,959.6 L462.1,961.5 L463.8,961.5 L464.4,959.0 L464.2,957.8 L462.5,956.5 L462.3,955.0 L465.2,954.0 L468.8,953.9 L471.5,954.0 L473.6,953.0 L472.8,951.2 L469.8,950.9 L465.6,951.9 L461.4,952.8 L460.0,951.2 L458.1,950.3 L458.1,947.7 L457.9,944.8 L458.5,942.2 L461.4,939.8 L464.6,937.1 L466.5,935.8 L466.3,934.4 L464.0,933.4 L460.0,933.4 L457.9,937.5 L456.2,940.2 L453.0,942.2 L450.7,944.1 L449.5,947.1 L449.3,950.3 L452.2,951.9 L452.8,953.1 L451.2,954.7 L448.8,956.7 L448.2,959.3 L447.8,962.3 L446.9,964.1 L444.0,964.2 L443.0,966.2 L440.2,966.4 L440.0,964.1 L439.0,962.0 L438.1,959.6 L436.9,955.9 L436.4,955.3 L435.4,954.4 L435.0,954.7 L433.3,955.9 L430.4,958.4 L427.8,958.7 L425.1,956.8 L423.8,953.1 L423.6,949.3 L423.8,946.1 L426.8,943.5 L428.9,942.5 L431.6,940.5 L434.1,939.5 L436.2,936.8 L439.0,934.1 L440.4,930.9 L442.5,928.5 L444.6,925.6 L446.7,923.4 L449.9,921.2 L453.0,919.0 L457.2,917.9 L462.5,915.6 L467.1,914.1 L471.9,914.4 L476.1,916.0 L478.2,917.1 L476.1,919.0Z" fill="#3b87a7"/>
<path d="M400.7,1018.0 L402.0,1017.8 L403.7,1019.4 L406.8,1019.2 L408.5,1019.7 L411.0,1018.3 L411.9,1018.3 L415.2,1016.3 L419.4,1015.6 L423.8,1015.6 L427.8,1015.1 L431.2,1015.2 L433.7,1014.4 L436.2,1015.0 L435.2,1016.6 L435.4,1018.5 L436.4,1019.4 L434.3,1021.6 L436.4,1024.2 L437.4,1024.3 L439.4,1025.0 L440.9,1024.9 L445.1,1026.1 L446.3,1028.4 L448.0,1028.8 L450.9,1030.0 L453.7,1030.9 L455.4,1029.3 L455.4,1026.8 L458.5,1024.9 L461.7,1025.6 L465.6,1027.2 L466.0,1027.8 L470.5,1028.5 L474.0,1029.7 L476.1,1028.6 L478.2,1028.0 L481.0,1028.7 L485.1,1028.6 L486.4,1032.8 L485.4,1036.2 L485.0,1036.8 L483.7,1035.5 L482.9,1034.8 L481.8,1032.3 L481.5,1031.7 L481.2,1032.8 L482.5,1035.5 L483.7,1037.3 L484.3,1038.5 L485.2,1040.9 L487.1,1044.3 L487.7,1045.4 L488.1,1047.4 L490.6,1049.6 L491.3,1051.8 L491.3,1054.9 L491.9,1057.1 L494.0,1058.4 L495.5,1062.7 L496.1,1063.8 L497.6,1065.0 L499.9,1067.0 L502.4,1068.7 L503.7,1069.8 L504.1,1071.5 L503.0,1072.2 L504.0,1072.4 L506.2,1074.7 L507.7,1074.5 L510.8,1073.9 L515.9,1072.8 L519.8,1071.4 L520.8,1071.6 L520.5,1074.5 L519.8,1076.8 L517.7,1080.4 L515.9,1084.2 L514.0,1087.1 L510.0,1091.5 L508.4,1092.3 L504.5,1095.3 L502.4,1097.6 L500.4,1100.1 L497.6,1102.3 L496.4,1105.1 L495.5,1106.5 L494.6,1109.2 L496.1,1111.1 L495.7,1114.5 L496.7,1117.7 L498.1,1118.7 L498.4,1123.0 L498.8,1127.3 L497.4,1130.9 L493.4,1133.3 L490.6,1134.6 L489.2,1136.8 L486.4,1138.8 L487.3,1142.5 L487.7,1146.9 L487.3,1149.1 L483.5,1150.9 L481.6,1152.5 L482.2,1154.4 L481.4,1158.1 L478.5,1161.2 L476.1,1164.6 L472.8,1167.8 L469.8,1169.9 L467.0,1170.9 L462.5,1171.0 L459.3,1171.1 L455.1,1172.8 L452.6,1171.7 L451.9,1171.1 L451.6,1168.1 L451.4,1165.5 L449.5,1161.6 L447.7,1158.3 L445.1,1154.5 L444.4,1150.2 L443.6,1145.5 L441.3,1140.9 L438.3,1135.2 L437.8,1133.2 L438.3,1129.4 L439.4,1125.1 L441.3,1123.0 L442.1,1119.8 L441.1,1116.2 L440.9,1115.1 L439.2,1110.5 L438.9,1109.3 L438.8,1108.7 L438.3,1107.1 L436.4,1104.9 L433.5,1101.6 L432.0,1098.7 L431.6,1098.1 L432.7,1096.6 L433.1,1095.3 L433.3,1094.4 L432.8,1091.8 L433.7,1090.1 L433.2,1088.4 L431.8,1087.0 L431.0,1087.0 L428.0,1087.3 L425.7,1087.5 L424.3,1085.4 L422.6,1083.3 L420.3,1083.1 L418.8,1083.2 L416.5,1083.5 L415.6,1083.8 L413.8,1084.5 L412.7,1084.9 L409.6,1086.4 L407.0,1086.0 L406.6,1085.9 L404.7,1085.5 L400.5,1086.5 L397.4,1087.4 L393.8,1085.6 L390.4,1083.3 L389.0,1082.0 L386.9,1081.0 L385.2,1078.7 L385.2,1077.5 L384.3,1076.6 L382.5,1074.7 L381.4,1073.4 L379.3,1071.5 L378.0,1070.5 L377.8,1068.9 L377.8,1068.2 L376.4,1065.5 L377.8,1063.8 L378.5,1062.6 L379.3,1059.4 L379.4,1058.1 L378.9,1055.5 L378.5,1055.1 L377.3,1052.2 L377.6,1050.1 L379.5,1045.8 L381.8,1043.6 L382.7,1040.5 L385.4,1036.9 L386.0,1036.3 L389.0,1035.3 L391.7,1033.2 L392.8,1030.7 L392.5,1028.4 L393.6,1025.8 L395.3,1023.9 L397.2,1023.2 L398.8,1022.2 L400.1,1019.9Z" fill="#4597b9"/>
<path d="M652.8,1143.1 L655.8,1140.9 L658.5,1140.5 L662.1,1139.8 L664.8,1139.1 L668.4,1137.0 L670.0,1133.1 L672.6,1133.5 L672.8,1130.9 L674.7,1129.0 L677.4,1126.6 L679.9,1126.0 L682.4,1128.1 L685.4,1128.1 L685.8,1125.1 L687.5,1122.8 L691.5,1120.6 L691.9,1120.1 L693.6,1121.5 L697.1,1122.3 L700.5,1122.3 L698.8,1124.7 L697.8,1128.1 L700.9,1130.1 L704.1,1132.2 L706.8,1133.9 L709.1,1133.7 L710.4,1129.4 L710.6,1125.1 L711.2,1123.0 L712.5,1119.2 L714.8,1123.6 L715.2,1127.1 L718.4,1128.1 L718.6,1131.6 L720.0,1134.8 L720.5,1136.8 L723.4,1138.5 L725.7,1140.0 L727.4,1144.2 L729.9,1145.1 L730.1,1147.1 L733.5,1149.8 L735.0,1152.2 L735.0,1155.2 L735.8,1158.6 L734.5,1163.4 L733.5,1166.9 L731.0,1170.4 L729.7,1173.7 L728.2,1178.0 L728.0,1179.3 L724.0,1180.2 L720.7,1183.2 L717.7,1181.4 L716.9,1181.2 L714.6,1182.4 L710.4,1181.3 L708.3,1180.5 L706.6,1177.8 L705.3,1174.7 L703.4,1174.7 L704.1,1173.0 L703.0,1171.3 L702.4,1173.5 L700.7,1174.0 L702.0,1170.9 L702.6,1167.6 L700.9,1170.2 L698.8,1172.3 L698.0,1173.0 L697.1,1170.9 L695.0,1168.5 L693.6,1166.7 L689.4,1165.0 L684.1,1165.5 L677.8,1166.9 L673.6,1168.5 L672.6,1170.6 L669.2,1170.6 L665.2,1170.9 L661.0,1173.0 L660.8,1173.5 L656.8,1173.0 L654.9,1171.6 L654.7,1169.9 L656.2,1169.2 L656.2,1166.2 L654.9,1162.7 L653.9,1158.8 L652.8,1155.8 L651.3,1152.7 L652.2,1150.2 L651.3,1148.0 L652.2,1144.9Z" fill="#37809f"/>
<path d="M401.2,981.6 L404.3,980.8 L405.8,980.1 L408.9,980.1 L411.0,979.7 L413.8,979.7 L416.1,978.6 L416.1,977.9 L414.6,977.6 L415.2,976.8 L416.8,974.8 L415.9,973.5 L413.8,973.7 L413.3,972.0 L412.9,970.2 L411.9,969.1 L410.2,967.6 L409.8,965.9 L408.7,964.7 L406.4,964.7 L407.7,963.8 L408.7,961.4 L409.3,959.9 L405.8,959.6 L404.3,960.0 L406.6,956.8 L402.6,956.8 L401.8,959.0 L400.9,960.8 L401.4,963.2 L400.1,962.6 L401.6,966.4 L402.8,967.6 L402.4,968.2 L403.9,968.5 L406.0,967.9 L405.6,969.1 L407.0,970.2 L406.7,972.2 L403.9,972.5 L403.5,974.0 L404.5,975.4 L402.4,976.5 L404.3,977.3 L406.6,977.9 L407.5,977.3 L406.2,978.5 L404.1,978.6 L402.4,980.8Z" fill="#2e6f8d" stroke="#2e6f8d" stroke-width=".35"/>
<path d="M399.7,975.7 L400.3,973.4 L400.3,970.8 L401.6,969.7 L400.9,968.2 L400.1,967.0 L397.8,966.7 L395.7,967.3 L395.1,969.1 L392.1,969.9 L392.3,972.2 L393.6,973.1 L392.8,974.8 L391.3,976.2 L392.5,977.6 L395.3,977.1 L398.2,975.9Z" fill="#35809f" stroke="#35809f" stroke-width=".35"/>
<path d="M435.6,878.3 L441.5,876.0 L446.7,876.0 L450.9,877.9 L457.2,881.6 L452.0,887.5 L448.8,891.5 L444.6,889.8 L441.9,886.2 L436.9,881.6Z" fill="#3a86a6" stroke="#3a86a6" stroke-width=".35"/>
<path d="M450.9,875.0 L459.3,873.6 L469.8,875.5 L465.6,878.8 L455.1,878.3Z" fill="#3a86a6" stroke="#3a86a6" stroke-width=".35"/>
<path d="M457.2,884.4 L463.5,885.7 L460.4,888.4 L457.2,887.1Z" fill="#3a86a6" fill-opacity=".85"/>
<path d="M533.9,916.3 L525.5,913.3 L521.3,911.3 L523.4,908.6 L524.5,905.4 L528.7,904.6 L529.7,900.5 L533.9,896.3 L543.4,892.8 L551.8,890.2 L557.9,890.2 L551.8,894.1 L543.4,897.5 L538.1,901.3 L532.9,905.4 L531.8,908.6 L529.7,912.5Z" fill="#3a86a6" stroke="#3a86a6" stroke-width=".35"/>
<path d="M512.9,874.5 L517.1,872.3 L522.4,873.1 L520.3,875.0 L515.0,875.5Z" fill="#3a86a6" fill-opacity=".85"/>
<path d="M609.5,877.9 L611.6,873.1 L617.9,870.6 L623.2,873.1 L630.6,878.8 L625.3,882.5 L617.9,882.1 L612.7,880.2Z" fill="#3a86a6" stroke="#3a86a6" stroke-width=".35"/>
<path d="M624.2,884.4 L630.6,881.2 L634.8,883.5 L628.4,886.2Z" fill="#3a86a6" stroke="#3a86a6" stroke-width=".35"/>
<path d="M700.9,897.1 L705.1,893.7 L713.5,894.6 L717.7,896.7 L712.5,898.8 L706.2,899.6Z" fill="#3a86a6" stroke="#3a86a6" stroke-width=".35"/>
<path d="M720.9,896.7 L729.3,898.0 L726.1,899.2Z" fill="#3a86a6" fill-opacity=".85"/>
<path d="M707.2,903.4 L713.5,904.6 L709.3,905.4Z" fill="#3a86a6" fill-opacity=".85"/>
<path d="M788.5,914.1 L793.4,912.5 L796.5,913.7 L792.3,915.0Z" fill="#3a86a6" fill-opacity=".85"/>
<path d="M711.4,969.7 L713.5,972.5 L714.2,976.8 L715.6,981.8 L713.5,983.7 L713.9,987.2 L714.6,990.4 L712.9,990.9 L711.4,992.5 L711.4,988.5 L711.6,984.5 L711.6,980.4 L711.0,976.2 L710.8,972.5Z" fill="#3a86a6" stroke="#3a86a6" stroke-width=".35"/>
<path d="M707.9,1004.0 L707.2,1002.0 L708.1,999.5 L710.8,995.4 L711.2,993.8 L714.6,997.2 L718.4,996.9 L719.2,999.5 L715.6,1000.5 L714.2,1002.8 L710.6,1001.5 L709.1,1003.0Z" fill="#3a86a6" stroke="#3a86a6" stroke-width=".35"/>
<path d="M709.1,1004.0 L710.4,1006.5 L711.4,1009.0 L710.4,1012.0 L709.3,1015.1 L708.7,1017.5 L709.1,1018.3 L707.0,1020.2 L706.6,1019.0 L704.7,1020.8 L703.4,1020.9 L700.9,1020.9 L700.7,1021.6 L699.5,1023.5 L698.4,1023.6 L696.9,1022.5 L697.1,1020.9 L694.6,1020.9 L691.5,1021.8 L688.3,1022.4 L688.3,1021.3 L691.7,1019.0 L695.0,1018.6 L697.4,1018.5 L699.0,1018.3 L700.3,1015.8 L700.5,1014.2 L701.6,1013.9 L700.9,1015.6 L704.1,1014.2 L706.2,1011.7 L707.2,1009.0 L707.2,1006.5 L707.9,1004.8Z" fill="#3a86a6" stroke="#3a86a6" stroke-width=".35"/>
<path d="M688.1,1022.5 L689.8,1023.2 L690.2,1025.1 L689.2,1028.1 L687.7,1029.3 L686.6,1028.6 L686.6,1026.3 L685.6,1024.6 L686.8,1023.2Z" fill="#3a86a6" stroke="#3a86a6" stroke-width=".35"/>
<path d="M690.6,1023.9 L692.5,1022.3 L695.5,1021.6 L696.1,1022.8 L695.0,1023.9 L692.5,1025.2Z" fill="#3a86a6" stroke="#3a86a6" stroke-width=".35"/>
<path d="M668.4,1042.5 L669.4,1043.4 L668.2,1047.4 L666.9,1049.7 L665.6,1047.4 L667.1,1044.1Z" fill="#3a86a6" stroke="#3a86a6" stroke-width=".35"/>
<path d="M641.5,1055.7 L644.8,1053.8 L646.3,1054.9 L644.2,1057.5 L642.1,1057.5Z" fill="#3a86a6" stroke="#3a86a6" stroke-width=".35"/>
<path d="M580.8,1076.4 L581.6,1075.9 L583.7,1078.5 L585.2,1081.2 L583.9,1083.3 L581.8,1084.0 L581.0,1082.1 L580.8,1079.3Z" fill="#3a86a6" stroke="#3a86a6" stroke-width=".35"/>
<path d="M666.5,1057.3 L669.8,1057.5 L670.0,1061.6 L668.6,1063.3 L668.8,1066.3 L672.1,1067.2 L673.8,1070.0 L672.1,1069.1 L669.4,1067.4 L666.7,1067.2 L666.5,1065.7 L665.0,1062.0 L666.1,1059.4Z" fill="#3a86a6" stroke="#3a86a6" stroke-width=".35"/>
<path d="M669.4,1081.4 L672.6,1078.5 L675.3,1077.8 L676.8,1075.9 L678.7,1078.7 L678.9,1081.9 L677.8,1083.3 L676.6,1084.6 L676.3,1082.3 L673.6,1083.1 L672.6,1080.8 L669.8,1082.1Z" fill="#3a86a6" stroke="#3a86a6" stroke-width=".35"/>
<path d="M674.2,1070.2 L677.0,1070.8 L677.2,1073.4 L675.7,1075.3 L674.7,1073.6Z" fill="#3a86a6" stroke="#3a86a6" stroke-width=".35"/>
<path d="M669.4,1071.7 L671.9,1072.3 L672.6,1074.4 L671.5,1077.4 L670.5,1075.7 L669.4,1074.4Z" fill="#3a86a6" stroke="#3a86a6" stroke-width=".35"/>
<path d="M659.3,1078.9 L664.2,1074.2 L663.7,1072.7 L662.3,1075.1 L659.1,1078.3Z" fill="#3a86a6" fill-opacity=".85"/>
<path d="M666.1,1068.3 L667.9,1068.7 L667.7,1070.6 L666.9,1070.4Z" fill="#3a86a6" fill-opacity=".85"/>
<path d="M643.4,1092.4 L644.8,1093.0 L647.1,1091.5 L650.5,1090.1 L652.6,1087.1 L655.3,1085.4 L657.2,1083.3 L658.7,1081.9 L660.4,1083.3 L662.1,1084.8 L663.5,1085.4 L661.4,1087.1 L660.6,1089.0 L661.0,1091.8 L662.9,1094.3 L660.8,1094.7 L660.0,1097.0 L658.3,1099.3 L657.4,1102.5 L656.8,1104.4 L654.1,1105.2 L651.8,1103.7 L648.4,1103.7 L646.3,1102.9 L644.6,1100.8 L644.2,1099.1 L642.5,1097.6 L642.1,1095.5 L642.1,1093.4Z" fill="#3a86a6" stroke="#3a86a6" stroke-width=".35"/>
<path d="M613.3,1084.8 L617.9,1085.6 L620.5,1088.4 L623.8,1091.1 L626.3,1092.6 L629.5,1095.1 L631.2,1097.2 L632.7,1100.4 L635.8,1102.9 L635.6,1108.8 L632.9,1108.8 L632.2,1107.1 L628.0,1104.8 L625.3,1101.8 L623.8,1098.5 L621.1,1095.5 L620.0,1092.8 L617.3,1090.1 L614.8,1087.5Z" fill="#3a86a6" stroke="#3a86a6" stroke-width=".35"/>
<path d="M634.1,1110.9 L636.0,1109.0 L637.9,1109.1 L641.1,1110.3 L646.1,1110.1 L649.7,1111.1 L653.7,1112.8 L653.7,1114.9 L650.5,1114.3 L646.3,1114.1 L641.1,1113.0 L636.9,1112.2Z" fill="#3a86a6" stroke="#3a86a6" stroke-width=".35"/>
<path d="M653.9,1113.6 L656.2,1113.9 L655.3,1115.1Z" fill="#3a86a6" fill-opacity=".85"/>
<path d="M656.8,1114.1 L658.3,1114.3 L657.6,1115.3Z" fill="#3a86a6" fill-opacity=".85"/>
<path d="M658.5,1114.3 L663.1,1114.1 L663.1,1115.1 L658.9,1115.5Z" fill="#3a86a6" fill-opacity=".85"/>
<path d="M665.0,1114.3 L671.5,1113.9 L671.1,1114.9 L665.2,1115.3Z" fill="#3a86a6" fill-opacity=".85"/>
<path d="M672.6,1118.3 L675.7,1115.5 L680.3,1114.3 L678.9,1115.8 L674.7,1118.1Z" fill="#3a86a6" fill-opacity=".85"/>
<path d="M663.1,1116.4 L666.9,1117.5 L665.2,1118.1Z" fill="#3a86a6" fill-opacity=".85"/>
<path d="M664.8,1094.9 L667.1,1093.7 L671.3,1094.6 L674.2,1094.1 L676.1,1093.2 L674.7,1095.5 L671.5,1095.5 L667.9,1095.5 L665.8,1095.7 L665.4,1098.3 L667.5,1099.5 L668.6,1098.4 L672.4,1098.1 L672.1,1098.7 L670.0,1099.9 L668.4,1100.6 L669.8,1102.9 L671.3,1105.0 L671.5,1106.7 L669.8,1106.7 L668.6,1105.2 L667.3,1102.3 L666.1,1102.7 L666.1,1106.7 L666.1,1108.4 L664.2,1108.2 L664.2,1103.9 L662.7,1102.3 L663.7,1099.3 L664.6,1096.8Z" fill="#3a86a6" stroke="#3a86a6" stroke-width=".35"/>
<path d="M680.8,1094.5 L682.0,1092.2 L683.5,1093.4 L682.0,1095.5 L683.1,1098.3 L681.4,1097.2Z" fill="#3a86a6" fill-opacity=".85"/>
<path d="M682.0,1103.1 L687.9,1102.9 L686.8,1104.2 L682.4,1103.9Z" fill="#3a86a6" fill-opacity=".85"/>
<path d="M677.8,1103.3 L680.3,1103.5 L679.3,1104.6Z" fill="#3a86a6" fill-opacity=".85"/>
<path d="M688.5,1098.3 L691.5,1097.4 L694.8,1098.3 L695.0,1100.8 L696.7,1103.5 L699.9,1101.2 L703.0,1099.9 L707.2,1101.4 L709.3,1102.0 L713.5,1103.7 L716.7,1104.6 L719.4,1106.9 L721.7,1109.0 L723.6,1109.4 L722.4,1110.9 L723.8,1113.2 L725.3,1115.5 L727.8,1117.2 L729.7,1118.7 L727.2,1118.3 L724.0,1117.9 L721.9,1116.4 L719.8,1113.4 L716.7,1112.6 L714.6,1113.9 L712.5,1116.0 L709.3,1115.8 L706.8,1113.6 L703.4,1114.3 L704.7,1111.7 L703.0,1108.2 L698.8,1106.3 L694.6,1104.8 L692.1,1105.0 L692.1,1103.5 L694.2,1102.0 L691.1,1101.4 L688.7,1099.7Z" fill="#3a86a6" stroke="#3a86a6" stroke-width=".35"/>
<path d="M724.7,1108.4 L729.3,1108.2 L732.9,1105.4 L732.4,1107.1 L729.3,1109.6 L725.1,1109.2Z" fill="#3a86a6" stroke="#3a86a6" stroke-width=".35"/>
<path d="M729.9,1102.0 L733.9,1104.6 L734.5,1106.5 L733.1,1105.0 L729.7,1102.7Z" fill="#3a86a6" fill-opacity=".85"/>
<path d="M738.1,1108.2 L740.6,1110.9 L739.2,1110.3Z" fill="#3a86a6" fill-opacity=".85"/>
<path d="M742.9,1112.0 L748.8,1114.5 L747.8,1114.5 L742.5,1112.6Z" fill="#3a86a6" fill-opacity=".85"/>
<path d="M748.6,1116.4 L750.9,1117.2 L749.2,1117.5Z" fill="#3a86a6" fill-opacity=".85"/>
<path d="M750.9,1114.5 L752.4,1116.8 L751.3,1116.2Z" fill="#3a86a6" fill-opacity=".85"/>
<path d="M763.1,1128.3 L764.6,1130.1 L763.5,1129.8Z" fill="#3a86a6" fill-opacity=".85"/>
<path d="M766.3,1133.7 L767.3,1134.4 L766.5,1134.6Z" fill="#3a86a6" fill-opacity=".85"/>
<path d="M757.6,1139.4 L763.9,1144.2 L762.7,1144.2 L757.6,1140.5Z" fill="#3a86a6" fill-opacity=".85"/>
<path d="M785.6,1133.9 L788.3,1133.9 L787.9,1135.2 L785.8,1135.0Z" fill="#3a86a6" fill-opacity=".85"/>
<path d="M788.7,1132.2 L791.3,1130.9 L790.8,1132.0Z" fill="#3a86a6" fill-opacity=".85"/>
<path d="M717.1,1187.1 L720.9,1188.1 L724.7,1187.6 L724.7,1190.9 L723.8,1193.4 L721.7,1194.5 L719.8,1194.2 L718.1,1190.9Z" fill="#37809f" stroke="#37809f" stroke-width=".35"/>
<path d="M775.9,1171.8 L779.3,1174.0 L780.3,1177.6 L782.6,1179.5 L785.0,1180.2 L788.1,1179.7 L786.8,1183.2 L785.0,1183.9 L784.7,1186.4 L781.4,1189.4 L780.1,1188.6 L781.2,1185.9 L779.9,1184.9 L778.2,1183.7 L779.9,1182.4 L780.3,1180.2 L779.5,1177.8 L777.0,1174.2Z" fill="#3a86a6" stroke="#3a86a6" stroke-width=".35"/>
<path d="M775.9,1186.6 L778.2,1187.6 L779.3,1189.6 L778.2,1191.1 L776.1,1193.9 L776.8,1195.0 L773.0,1196.3 L771.9,1200.1 L769.2,1202.3 L766.7,1202.3 L762.9,1200.7 L763.1,1200.1 L765.6,1196.5 L767.1,1195.2 L770.2,1193.2 L772.8,1191.4 L774.2,1188.9Z" fill="#3a86a6" stroke="#3a86a6" stroke-width=".35"/>
<path d="M516.7,1121.9 L518.6,1126.2 L519.2,1129.2 L517.7,1131.6 L516.9,1134.8 L515.6,1140.3 L513.5,1145.8 L512.1,1150.0 L508.1,1151.6 L505.6,1150.2 L504.9,1146.9 L504.1,1143.6 L506.4,1139.2 L506.2,1135.9 L505.3,1133.7 L506.6,1130.9 L510.4,1129.8 L513.8,1127.3 L514.6,1125.1Z" fill="#4191b3" stroke="#4191b3" stroke-width=".35"/>
<path d="M439.2,1012.7 L441.3,1012.2 L445.9,1012.1 L444.8,1014.4 L444.8,1015.8 L443.2,1015.5 L439.8,1013.8Z" fill="#3a86a6" stroke="#3a86a6" stroke-width=".35"/>
<path d="M430.4,1005.5 L432.5,1004.7 L433.7,1006.5 L433.3,1009.8 L432.0,1010.3 L430.8,1010.3 L430.8,1007.3Z" fill="#3a86a6" stroke="#3a86a6" stroke-width=".35"/>
<path d="M431.2,1001.8 L432.9,1000.2 L433.1,1002.8 L432.5,1004.3 L431.4,1003.5Z" fill="#3a86a6" stroke="#3a86a6" stroke-width=".35"/>
<path d="M462.5,1018.7 L464.6,1018.7 L468.4,1019.3 L467.7,1019.9 L464.6,1020.0 L462.5,1019.3Z" fill="#3a86a6" stroke="#3a86a6" stroke-width=".35"/>
<path d="M481.0,1019.8 L482.5,1019.1 L485.8,1018.4 L484.6,1019.9 L482.5,1020.9 L481.2,1020.4Z" fill="#3a86a6" stroke="#3a86a6" stroke-width=".35"/>
<path d="M418.2,1008.8 L419.8,1008.0 L419.8,1009.3 L418.8,1009.5Z" fill="#3a86a6" fill-opacity=".85"/>
<path d="M436.7,965.6 L439.4,964.7 L439.4,966.7 L437.9,967.6 L436.7,966.7Z" fill="#3a86a6" stroke="#3a86a6" stroke-width=".35"/>
<path d="M433.9,966.2 L435.6,966.2 L435.6,967.3 L434.1,967.3Z" fill="#3a86a6" stroke="#3a86a6" stroke-width=".35"/>
<path d="M451.4,961.7 L453.0,959.0 L452.6,960.8Z" fill="#3a86a6" fill-opacity=".85"/>
<path d="M459.3,957.1 L461.4,956.8 L460.4,958.4Z" fill="#3a86a6" fill-opacity=".85"/>
<path d="M525.5,1070.2 L527.6,1070.1 L526.6,1070.6Z" fill="#3a86a6" fill-opacity=".85"/>
<path d="M719.8,996.4 L725.1,993.8 L724.0,994.6 L719.8,996.9Z" fill="#3a86a6" fill-opacity=".85"/>
<path d="M739.4,981.2 L741.0,979.8 L740.4,981.2Z" fill="#3a86a6" fill-opacity=".85"/>
<path d="M377.6,1035.3 L379.1,1034.9 L378.5,1036.1Z" fill="#3a86a6" fill-opacity=".85"/>
<path d="M383.3,1035.7 L383.9,1034.6 L383.9,1035.7Z" fill="#3a86a6" fill-opacity=".85"/>
<path d="M467.7,1009.5 L469.0,1009.8 L468.2,1010.3Z" fill="#3a86a6" fill-opacity=".85"/>
<path d="M471.5,1016.8 L472.4,1016.8 L471.7,1017.7Z" fill="#3a86a6" fill-opacity=".85"/>
<path d="M461.9,1010.5 L464.0,1011.2 L464.6,1012.5 L463.1,1011.7Z" fill="#3a86a6" stroke="#3a86a6" stroke-width=".35"/>
</g>
<g clip-path="url(#land)">
<path d="M516.5,991.6 L515.0,988.8 L512.3,987.7 L510.8,986.1 L511.9,984.0 L511.7,982.0 L515.0,981.8 L515.6,980.1 L519.8,977.3 L523.4,977.6 L527.6,979.0 L530.1,980.1 L533.9,979.0 L536.2,979.0 L539.0,980.1 L542.1,979.6 L539.4,976.2 L541.3,973.5 L541.7,970.8 L547.6,969.7 L550.1,969.4 L556.4,967.6 L562.1,966.7 L562.7,969.9 L567.5,970.5 L569.6,971.7 L573.8,969.9 L576.8,972.5 L581.2,979.6 L584.3,979.6 L588.3,979.0 L592.3,982.9 L596.6,984.2 L596.6,984.2 L593.4,986.1 L592.7,989.6 L587.5,989.3 L586.0,993.8 L582.9,994.8 L582.0,996.4 L581.6,1002.3 L581.6,1002.3 L579.1,1000.8 L572.8,1000.5 L569.2,999.7 L567.5,1001.6 L562.2,1002.2 L562.2,1002.2 L560.2,1003.8 L556.0,1005.2 L551.8,1002.8 L552.0,1000.2 L549.5,998.5 L541.5,996.9 L536.2,993.5 L530.8,995.1 L530.8,1004.5 L530.8,1004.5 L528.0,1002.8 L523.3,1003.4 L520.3,1000.2 L518.2,995.1Z" fill="#4698ba"/>
<path d="M597.6,984.0 L601.6,982.0 L607.0,979.6 L611.6,981.8 L617.9,982.0 L619.6,980.4 L620.9,975.9 L627.8,978.2 L628.0,980.1 L633.7,980.7 L637.9,981.8 L641.1,983.7 L646.3,983.5 L653.2,981.1 L658.3,982.2 L658.3,982.2 L655.8,986.8 L656.8,987.6 L660.6,988.1 L664.6,989.3 L664.6,990.9 L658.1,991.7 L655.8,994.1 L651.8,995.8 L648.2,995.0 L648.3,998.5 L643.2,1001.6 L639.0,1001.6 L633.5,1003.7 L627.0,1001.5 L623.2,1001.1 L615.6,1000.9 L613.5,996.9 L609.5,995.2 L604.3,994.6 L603.2,988.5 L599.5,986.7 L597.6,984.0Z" fill="#4597b9"/>
<path d="M581.6,1002.3 L582.0,996.4 L582.9,994.8 L586.0,993.8 L587.5,989.3 L592.7,989.6 L593.4,986.1 L596.6,984.2 L596.6,984.2 L597.6,984.0 L597.6,984.0 L599.5,986.7 L603.2,988.5 L604.3,994.6 L609.5,995.2 L613.5,996.9 L615.6,1000.9 L623.2,1001.1 L627.0,1001.5 L633.5,1003.7 L639.0,1001.6 L643.2,1001.6 L648.3,998.5 L648.2,995.0 L651.8,995.8 L655.8,994.1 L658.1,991.7 L664.6,990.9 L664.6,989.3 L660.6,988.1 L656.8,987.6 L655.8,986.8 L658.3,982.2 L658.3,982.2 L660.6,983.1 L663.5,981.5 L665.4,977.2 L666.9,974.5 L665.4,974.1 L667.3,972.5 L672.8,971.8 L677.0,973.2 L680.5,980.9 L681.2,982.3 L687.5,984.9 L688.2,988.0 L691.5,987.9 L696.2,986.2 L695.3,988.8 L692.7,994.8 L690.2,994.3 L688.5,995.4 L688.9,999.2 L687.5,1001.8 L687.5,1001.8 L686.0,1000.2 L682.0,1002.8 L679.7,1003.3 L677.8,1005.5 L674.5,1007.8 L674.3,1008.0 L673.6,1010.3 L671.5,1015.1 L677.8,1024.6 L673.6,1036.2 L663.1,1051.8 L648.4,1056.2 L640.0,1055.1 L640.0,1050.6 L637.9,1049.8 L637.3,1047.6 L634.3,1046.7 L631.6,1048.3 L628.4,1048.1 L627.7,1048.6 L627.7,1048.6 L626.8,1051.4 L625.6,1050.6 L625.6,1050.6 L621.5,1049.3 L621.1,1047.2 L618.2,1045.4 L618.1,1043.5 L620.5,1040.9 L620.5,1037.2 L617.6,1035.6 L617.6,1035.6 L614.8,1033.0 L611.9,1033.2 L606.4,1036.6 L605.7,1036.6 L605.7,1036.6 L603.2,1036.0 L599.9,1037.8 L599.9,1037.8 L598.2,1036.4 L598.2,1036.4 L593.8,1036.2 L589.6,1034.1 L585.4,1030.9 L583.4,1031.2 L583.4,1031.2 L579.1,1028.8 L578.5,1025.6 L580.1,1024.6 L578.7,1021.6 L577.0,1018.7 L576.6,1018.7 L576.6,1018.7 L572.8,1017.5 L570.5,1014.5 L570.5,1014.5 L570.5,1011.5 L567.8,1009.1 L567.8,1009.1 L568.2,1008.3 L570.7,1006.7 L574.7,1005.3 L577.0,1005.3 L581.6,1002.3Z" fill="#3e8bac"/>
<path d="M530.8,1004.5 L530.8,995.1 L536.2,993.5 L541.5,996.9 L549.5,998.5 L552.0,1000.2 L551.8,1002.8 L556.0,1005.2 L560.2,1003.8 L562.2,1002.2 L562.2,1002.2 L567.5,1001.6 L569.2,999.7 L572.8,1000.5 L579.1,1000.8 L581.6,1002.3 L581.6,1002.3 L577.0,1005.3 L574.7,1005.3 L570.7,1006.7 L568.2,1008.3 L567.8,1009.1 L567.8,1009.1 L570.5,1011.5 L570.5,1014.5 L570.5,1014.5 L565.8,1015.1 L563.3,1015.6 L563.1,1012.9 L560.6,1013.7 L558.7,1014.9 L555.6,1014.6 L555.6,1014.6 L552.8,1014.3 L552.8,1014.3 L548.6,1016.8 L545.5,1019.0 L541.7,1018.5 L541.7,1018.5 L541.7,1016.1 L537.7,1013.9 L533.5,1012.7 L530.8,1012.5 L526.4,1014.3 L525.5,1011.5 L523.4,1007.8 L523.3,1003.4 L523.3,1003.4 L528.0,1002.8 L530.8,1004.5Z" fill="#4799bb"/>
<path d="M541.7,1018.5 L545.5,1019.0 L548.6,1016.8 L552.8,1014.3 L552.8,1014.3 L555.6,1014.6 L555.6,1014.6 L558.7,1014.9 L560.6,1013.7 L563.1,1012.9 L563.3,1015.6 L565.8,1015.1 L570.5,1014.5 L570.5,1014.5 L572.8,1017.5 L576.6,1018.7 L576.6,1018.7 L569.6,1020.6 L568.6,1024.6 L571.5,1026.3 L569.6,1029.3 L568.4,1031.6 L566.3,1034.1 L564.2,1036.4 L560.8,1036.4 L559.3,1038.5 L562.1,1041.4 L562.5,1043.6 L558.1,1044.5 L556.4,1045.8 L551.8,1047.4 L542.5,1045.2 L542.5,1042.7 L545.1,1039.4 L545.9,1038.0 L545.1,1035.7 L541.0,1032.0 L541.0,1032.0 L543.0,1029.1 L541.1,1028.1 L540.4,1022.5 L541.7,1018.5Z" fill="#4595b7"/>
<path d="M526.4,1014.3 L530.8,1012.5 L533.5,1012.7 L537.7,1013.9 L541.7,1016.1 L541.7,1018.5 L541.7,1018.5 L540.4,1022.5 L541.1,1028.1 L543.0,1029.1 L541.0,1032.0 L541.0,1032.0 L545.1,1035.7 L545.9,1038.0 L545.1,1039.4 L542.5,1042.7 L537.1,1045.2 L528.7,1041.8 L520.3,1039.6 L515.0,1033.9 L515.2,1031.6 L513.3,1029.3 L513.3,1027.0 L509.8,1024.6 L508.5,1022.3 L509.8,1018.0 L507.2,1014.8 L507.2,1014.8 L505.6,1009.3 L507.2,1008.5 L507.2,1008.5 L510.8,1010.5 L510.8,1010.5 L514.0,1008.5 L515.9,1011.7 L518.2,1015.1 L522.4,1016.8 L526.6,1016.3Z" fill="#4190b2"/>
<path d="M507.2,1014.8 L502.1,1014.9 L507.2,1014.8 L507.2,1014.8 L509.8,1018.0 L508.5,1022.3 L509.8,1024.6 L513.3,1027.0 L513.3,1029.3 L515.2,1031.6 L518.2,1036.2 L524.5,1041.8 L532.9,1039.6 L541.3,1049.6 L530.8,1062.7 L518.2,1069.1 L503.5,1072.3 L499.3,1064.8 L490.9,1049.6 L484.6,1035.0 L485.1,1028.6 L486.2,1024.6 L487.9,1018.7 L488.5,1017.8 L488.5,1017.8 L490.0,1017.1 L490.2,1015.6 L493.0,1015.6 L497.2,1015.6 L502.1,1014.9Z" fill="#4393b5"/>
<path d="M607.7,1049.8 L608.9,1047.4 L609.3,1045.2 L612.1,1042.3 L613.1,1039.6 L615.2,1037.8 L617.6,1035.6 L617.6,1035.6 L620.5,1037.2 L620.5,1040.9 L618.1,1043.5 L618.2,1045.4 L621.1,1047.2 L621.5,1049.3 L625.6,1050.6 L625.6,1050.6 L626.8,1051.4 L627.7,1048.6 L627.7,1048.6 L628.4,1048.1 L631.6,1048.3 L634.3,1046.7 L637.3,1047.6 L637.9,1049.8 L640.0,1050.6 L644.2,1051.8 L648.4,1071.2 L637.9,1081.9 L633.7,1094.5 L629.5,1096.6 L621.1,1086.1 L614.8,1079.7 L616.9,1067.0 L608.5,1062.7 L604.3,1054.0 L607.7,1049.8 L606.8,1052.2Z" fill="#3f8dae"/>
<path d="M576.6,1018.7 L569.6,1020.6 L568.6,1024.6 L571.5,1026.3 L569.6,1029.3 L568.4,1031.6 L566.3,1034.1 L564.2,1036.4 L560.8,1036.4 L559.3,1038.5 L562.1,1041.4 L562.5,1043.6 L558.1,1044.5 L556.4,1045.8 L553.9,1049.6 L564.4,1079.7 L577.0,1086.1 L587.5,1079.7 L602.2,1054.0 L607.7,1049.8 L607.7,1049.8 L608.9,1047.4 L609.3,1045.2 L612.1,1042.3 L613.1,1039.6 L615.2,1037.8 L617.6,1035.6 L605.7,1036.6 L606.4,1036.6 L611.9,1033.2 L614.8,1033.0 L617.6,1035.6 L605.7,1036.6 L603.2,1036.0 L599.9,1037.8 L599.9,1037.8 L598.2,1036.4 L598.2,1036.4 L593.8,1036.2 L589.6,1034.1 L585.4,1030.9 L583.4,1031.2 L583.4,1031.2 L579.1,1028.8 L578.5,1025.6 L580.1,1024.6 L578.7,1021.6 L577.0,1018.7 L576.6,1018.7Z" fill="#3c87a7"/>
<path d="M500.3,1004.0 L504.5,1005.0 L504.5,1005.0 L507.2,1008.5 L507.2,1008.5 L505.6,1009.3 L507.2,1014.8 L507.2,1014.8 L502.1,1014.9 L502.1,1014.9 L497.2,1015.6 L493.0,1015.6 L490.2,1015.6 L490.0,1017.1 L488.5,1017.8 L486.7,1018.7 L476.1,1018.7 L468.8,1017.5 L466.7,1009.0 L467.9,1005.9 L467.9,1005.9 L468.5,1003.5 L468.6,1003.5 L471.9,1002.8 L476.1,1001.5 L488.8,1000.2 L500.3,1002.3Z" fill="#36809f"/>
<path d="M443.1,970.8 L443.1,970.8 L443.4,973.4 L444.0,976.2 L444.6,979.0 L444.6,979.0 L442.1,979.8 L438.8,981.2 L440.4,983.7 L442.1,985.2 L442.1,985.2 L440.4,988.3 L438.5,988.3 L435.2,988.7 L433.3,988.4 L433.3,988.4 L431.0,988.1 L429.1,988.3 L429.1,988.3 L430.4,984.5 L426.6,983.1 L426.6,983.1 L425.9,981.4 L425.7,979.7 L425.7,979.7 L425.9,976.8 L427.8,975.4 L428.3,972.7 L427.4,969.9 L431.3,967.9 L431.3,967.9 L433.9,968.2 L436.2,968.2 L440.4,967.6Z" fill="#2f708d"/>
<path d="M418.5,978.7 L422.0,981.8 L425.3,983.0 L426.6,983.1 L426.6,983.1 L430.4,984.5 L429.1,988.3 L429.1,988.3 L425.9,991.7 L427.8,992.8 L427.8,992.8 L427.4,995.1 L428.9,998.2 L428.9,1001.5 L420.5,1002.8 L419.8,1001.6 L414.6,1001.0 L409.3,999.4 L406.8,997.7 L406.8,989.9 L400.5,985.8 L407.9,981.8 L415.2,979.6Z" fill="#327796"/>
<path d="M409.3,999.4 L414.6,1001.0 L419.8,1001.6 L421.5,1005.3 L415.2,1012.7 L408.9,1017.5 L400.5,1018.1 L392.1,1016.3 L392.1,997.7 L409.3,997.7Z" fill="#35809e"/>
<path d="M428.9,998.2 L428.9,998.2 L427.4,995.1 L427.8,992.8 L427.8,992.8 L431.0,992.0 L432.0,992.9 L435.1,990.3 L435.1,990.3 L438.8,989.9 L441.9,991.2 L441.9,991.2 L441.9,993.2 L440.4,995.1 L441.5,997.7 L453.0,1006.5 L450.9,1012.7 L438.3,1013.9 L432.0,1002.8Z" fill="#347d9c"/>
<path d="M443.1,970.8 L446.7,967.6 L453.0,967.6 L454.7,969.2 L454.7,969.2 L461.0,969.5 L461.0,969.5 L462.5,970.7 L462.5,970.7 L463.3,974.2 L461.9,975.4 L462.7,977.6 L462.7,977.6 L463.8,980.4 L460.5,984.3 L460.5,984.3 L455.1,983.7 L452.7,983.1 L452.7,983.1 L450.5,981.2 L447.4,980.4 L444.6,979.0 L444.6,979.0 L444.0,976.2 L443.4,973.4 L443.1,970.8Z" fill="#347c9b"/>
<path d="M436.4,955.3 L437.9,952.8 L439.4,949.3 L438.8,947.1 L438.8,942.8 L442.3,939.5 L443.6,935.1 L445.7,931.6 L447.6,927.4 L451.2,923.8 L455.4,921.8 L456.3,921.7 L456.3,921.7 L458.3,923.1 L462.7,925.8 L462.5,928.5 L463.5,929.9 L463.9,933.4 L459.3,939.5 L454.1,949.3 L455.1,958.7 L448.8,966.2 L440.4,967.6 L436.2,963.2 L435.8,957.1Z" fill="#337a99"/>
<path d="M436.4,955.3 L432.0,959.3 L421.5,958.7 L419.4,946.1 L434.1,930.9 L448.8,916.3 L467.7,910.6 L480.4,916.3 L477.8,919.0 L477.8,919.0 L476.4,919.5 L473.8,921.8 L473.8,921.8 L474.3,919.4 L471.9,917.9 L468.8,918.6 L467.1,921.2 L465.6,923.4 L462.9,922.7 L457.9,920.8 L456.3,921.7 L456.3,921.7 L455.4,921.8 L451.2,923.8 L447.6,927.4 L445.7,931.6 L443.6,935.1 L442.3,939.5 L438.8,942.8 L438.8,947.1 L439.4,949.3 L437.9,952.8 L436.4,955.3Z" fill="#37839f"/>
<path d="M418.5,978.7 L419.4,976.2 L423.6,971.1 L428.3,971.7 L428.3,972.7 L428.3,972.7 L427.8,975.4 L425.9,976.8 L425.7,979.7 L425.7,979.7 L425.9,981.4 L426.6,983.1 L426.6,983.1 L425.3,983.0 L422.0,981.8 L418.5,978.7Z" fill="#327693"/>
<path d="M469.0,965.6 L472.4,964.2 L472.4,964.2 L478.0,965.9 L478.2,968.5 L481.8,972.0 L479.9,975.9 L479.9,975.9 L477.2,978.2 L470.9,977.6 L465.6,976.5 L462.7,977.6 L462.7,977.6 L461.9,975.4 L463.3,974.2 L462.5,970.7 L462.5,970.7 L466.7,969.9 L467.3,967.9 L469.0,965.6Z" fill="#408eaf"/>
<path d="M447.7,1158.3 L447.7,1158.3 L449.7,1158.6 L453.0,1159.0 L455.1,1157.9 L455.1,1149.7 L455.1,1149.7 L456.6,1154.5 L460.6,1152.7 L465.0,1152.0 L466.7,1151.8 L469.4,1148.7 L474.8,1144.0 L474.8,1144.0 L478.9,1144.4 L478.9,1144.4 L480.4,1149.1 L480.1,1152.0 L480.6,1154.4 L482.2,1154.4 L486.7,1161.6 L471.9,1175.6 L450.9,1175.6 L444.6,1161.6Z" fill="#3d8aab"/>
<path d="M420.7,1071.9 L419.0,1077.6 L418.8,1083.2 L421.5,1090.3 L431.0,1089.2 L431.0,1087.0 L431.0,1087.0 L432.7,1083.1 L436.9,1082.5 L439.8,1078.5 L441.9,1073.6 L443.8,1070.8 L442.7,1069.1 L442.7,1069.1 L441.7,1067.6 L441.7,1067.6 L438.3,1068.9 L432.0,1069.4 L428.0,1069.1 L421.7,1067.8 L420.7,1071.9Z" fill="#3f8eaf"/>
<path d="M408.5,1019.7 L409.3,1021.3 L410.4,1026.5 L405.6,1027.7 L405.4,1029.5 L402.8,1030.5 L398.2,1032.5 L394.9,1034.6 L394.9,1036.9 L394.9,1036.9 L394.9,1040.7 L387.9,1040.7 L387.9,1046.4 L385.6,1048.0 L385.8,1051.1 L377.5,1051.1 L373.2,1051.8 L379.5,1031.6 L396.3,1016.3 L404.7,1016.8Z" fill="#418fb0"/>
<path d="M466.0,1027.8 L465.0,1031.2 L465.6,1033.4 L465.6,1049.6 L465.6,1049.6 L490.6,1049.6 L488.8,1044.1 L485.8,1038.0 L486.7,1035.0 L486.4,1032.8 L486.4,1032.8 L485.1,1028.6 L480.4,1025.8 L469.8,1025.8Z" fill="#4393b5"/>
<path d="M488.5,1086.9 L490.6,1087.2 L493.2,1089.0 L496.1,1089.3 L498.8,1087.8 L501.1,1088.3 L501.1,1088.3 L499.2,1090.7 L499.3,1098.4 L500.4,1100.1 L501.4,1107.1 L499.3,1118.7 L498.1,1118.7 L498.1,1118.7 L491.9,1121.3 L486.5,1121.0 L486.5,1121.0 L484.6,1116.6 L482.3,1116.4 L482.3,1116.4 L477.7,1113.9 L477.7,1113.9 L475.5,1110.3 L474.9,1105.9 L474.9,1105.9 L477.0,1104.6 L477.8,1101.4 L477.8,1101.4 L477.2,1098.8 L477.2,1098.8 L484.3,1098.7 L484.3,1098.7 L484.6,1096.2 L486.7,1093.0 L485.6,1089.2 L484.6,1087.8 L484.6,1087.8 L488.5,1086.9Z" fill="#4090b2"/>
<path d="M377.5,1051.1 L377.5,1051.1 L385.8,1051.1 L385.6,1048.0 L387.9,1046.4 L387.9,1040.7 L394.9,1040.7 L394.9,1036.9 L394.9,1037.8 L394.9,1037.8 L403.0,1042.9 L403.0,1042.9 L415.5,1051.6 L416.9,1053.3 L419.8,1054.4 L422.1,1055.9 L422.1,1055.9 L422.0,1060.7 L420.5,1064.1 L413.6,1065.0 L413.6,1065.0 L408.9,1066.5 L404.9,1068.3 L404.1,1069.8 L401.6,1074.7 L401.6,1074.7 L396.4,1075.1 L396.4,1075.1 L394.4,1071.2 L394.2,1070.4 L389.0,1070.3 L389.0,1070.3 L387.5,1065.4 L387.5,1065.4 L385.0,1062.6 L382.7,1061.3 L378.5,1062.6 L375.3,1060.5 L375.3,1051.8Z" fill="#4aa1c4"/>
<path d="M422.1,1055.9 L425.3,1055.2 L428.8,1052.1 L438.3,1046.3 L438.3,1046.3 L444.6,1047.4 L444.6,1047.4 L463.5,1055.1 L463.5,1055.1 L463.5,1063.3 L461.2,1063.8 L460.0,1066.3 L459.8,1069.8 L461.2,1073.5 L461.2,1073.5 L458.7,1074.2 L456.0,1077.4 L453.0,1077.6 L452.2,1079.7 L448.0,1080.4 L445.7,1080.8 L445.7,1080.8 L445.1,1078.9 L442.4,1076.4 L445.5,1075.6 L444.8,1073.6 L442.7,1069.1 L442.7,1069.1 L441.7,1067.6 L441.7,1067.6 L438.3,1068.9 L432.0,1069.4 L428.0,1069.1 L421.7,1067.8 L420.7,1071.9 L420.7,1071.9 L418.2,1070.7 L418.2,1070.7 L415.2,1068.4 L413.6,1065.0 L413.6,1065.0 L420.5,1064.1 L422.0,1060.7 L422.1,1055.9Z" fill="#49a0c2"/>
<path d="M484.8,1076.7 L485.2,1074.2 L487.3,1071.2 L489.0,1069.8 L489.7,1066.1 L489.7,1066.1 L492.7,1065.0 L495.3,1065.7 L499.0,1066.8 L502.2,1070.2 L502.2,1070.2 L500.9,1073.4 L503.5,1073.4 L504.0,1072.4 L503.5,1073.4 L504.5,1076.8 L507.7,1078.4 L511.9,1079.7 L514.0,1079.7 L507.7,1086.1 L503.5,1087.1 L501.1,1088.3 L501.1,1088.3 L498.8,1087.8 L496.1,1089.3 L493.2,1089.0 L490.6,1087.2 L488.5,1086.9 L488.5,1086.9 L486.7,1085.0 L484.6,1081.9 L482.5,1079.9 L484.8,1078.5 L484.8,1076.7Z" fill="#4393b5"/>
<path d="M267.1,1119.8 L269.6,1119.8 L273.2,1117.5 L276.0,1117.2 L276.0,1121.3 L278.7,1123.0 L281.4,1124.1 L285.0,1125.1 L286.5,1125.8 L286.7,1131.1 L290.4,1131.1 L290.9,1133.5 L291.9,1134.8 L291.7,1137.0 L291.1,1138.7 L291.5,1139.8 L291.5,1139.8 L291.5,1143.8 L295.5,1144.2 L296.3,1144.9 L296.7,1148.0 L299.1,1148.2 L298.4,1151.6 L298.4,1151.6 L295.5,1155.4 L290.0,1155.2 L292.1,1150.9 L289.6,1149.8 L285.0,1147.5 L281.4,1144.0 L281.4,1144.0 L278.1,1145.3 L275.5,1143.8 L272.0,1145.3 L272.0,1145.3 L269.9,1142.5 L269.2,1138.1 L267.1,1133.7 L267.1,1133.7 L268.2,1130.9 L267.8,1129.0 L268.8,1123.0 L267.1,1119.8Z" fill="#4292b4"/>
<path d="M267.1,1133.7 L268.2,1130.9 L267.8,1129.0 L268.8,1123.0 L267.1,1119.8 L267.1,1119.8 L265.0,1119.8 L264.8,1116.6 L261.5,1117.7 L259.8,1115.5 L257.9,1112.2 L258.1,1110.5 L260.0,1107.5 L264.4,1105.6 L266.3,1105.4 L266.3,1105.4 L264.6,1104.6 L265.9,1102.3 L262.5,1101.2 L259.8,1101.4 L257.7,1098.7 L255.2,1096.8 L255.2,1096.8 L254.5,1099.7 L252.4,1101.8 L249.7,1102.9 L248.4,1103.9 L247.2,1107.1 L245.1,1105.8 L244.4,1103.7 L240.9,1105.0 L240.9,1111.3 L249.3,1124.1 L261.9,1135.9 L265.3,1135.6 L265.3,1135.6 L267.1,1133.7Z" fill="#3d8aab"/>
</g>
<ellipse cx="253.2" cy="924.2" rx="1.6" ry="1.2" fill="#f2f6f7"/>
<path d="M512.9,1000.2 L511.2,996.1 L511.9,993.0 L515.0,990.7 L520.3,989.3 L525.5,989.9 L527.2,991.7 L526.1,994.3 L522.4,995.6 L520.3,996.4 L519.0,997.2 L520.1,999.7 L523.4,1001.5 L525.5,1002.8 L527.6,1004.0 L527.2,1005.8 L524.5,1006.0 L524.5,1007.8 L525.5,1009.5 L526.4,1010.5 L526.4,1014.3 L524.5,1015.4 L520.3,1015.8 L518.2,1014.2 L516.1,1013.7 L515.9,1011.7 L516.5,1009.5 L517.1,1007.3 L519.0,1006.8 L517.1,1006.0 L516.5,1004.5 L514.8,1003.0Z" fill="#f2f6f7"/>
<path d="M155.2,984.5 L213.1,984.5 L213.1,983.4 L214.4,985.3 L217.8,985.6 L220.9,986.9 L224.9,987.2 L227.4,986.4 L235.0,990.1 L235.6,991.2 L237.5,992.2 L237.7,993.0 L239.8,994.3 L240.7,998.7 L239.8,1001.3 L238.6,1002.5 L239.4,1003.5 L247.2,1000.8 L247.0,999.5 L246.8,999.0 L251.8,998.7 L252.8,997.2 L255.6,995.4 L256.2,995.1 L262.9,995.1 L264.4,994.3 L265.4,992.0 L266.1,990.7 L267.8,988.7 L269.6,988.9 L270.7,989.6 L270.7,993.0 L271.5,994.3 L272.4,995.4 M139.8,967.6 L140.0,965.0 L136.3,962.9 L132.9,957.4 L129.7,954.7 L126.6,954.0 L124.3,955.9 L121.1,952.2 L120.7,951.4 L116.9,951.5 L116.9,919.5 M209.0,1040.8 L206.8,1040.5 L204.9,1039.8 L204.1,1037.3 L202.4,1035.5 L201.2,1033.2 L200.1,1032.1 L198.2,1031.8 L197.4,1032.3 L196.5,1033.9 L194.7,1033.2 L193.2,1031.4 L192.6,1030.0 L189.6,1027.6 L185.8,1027.5 L185.8,1028.5 L179.8,1028.5 L172.0,1025.8 L172.2,1025.3 L167.1,1025.7 M227.6,1057.3 L225.9,1058.8 L222.0,1058.8 L222.0,1060.0 L223.0,1062.0 L223.2,1062.5 L220.5,1062.6 L219.4,1064.3 L219.4,1065.8 M225.9,1058.8 L225.7,1062.9 L226.4,1062.9 M223.9,1067.5 L225.3,1066.1 L225.7,1064.8 L227.6,1063.3 M225.3,1066.1 L227.2,1067.1 L228.7,1068.3 M229.5,1069.2 L231.0,1067.4 L233.1,1067.2 L235.0,1065.3 L238.3,1064.8 M233.1,1073.2 L235.2,1073.4 L237.3,1073.6 M239.0,1079.2 L239.2,1077.6 L239.6,1076.5 M249.5,1081.3 L250.6,1078.4 M262.5,1054.5 L262.1,1057.1 L262.5,1058.8 M263.3,1071.7 L260.8,1073.2 L259.8,1077.0 L260.8,1079.1 L261.0,1081.0 L264.0,1081.9 L267.3,1083.8 L271.3,1083.5 L270.7,1086.1 L271.8,1089.4 L271.8,1092.4 L272.6,1094.1 M272.6,1094.1 L275.5,1094.9 L278.7,1092.6 L279.9,1092.0 L278.1,1089.4 L278.7,1088.0 L281.2,1088.2 L283.9,1087.3 L285.6,1085.6 M287.3,1079.1 L285.6,1080.8 L284.6,1082.5 L284.4,1084.2 L285.6,1085.6 M285.6,1085.6 L287.1,1085.9 L288.1,1088.4 L287.3,1091.1 L287.7,1092.8 L289.4,1093.9 L291.3,1093.4 L294.4,1092.6 M293.0,1084.1 L292.8,1086.1 L291.3,1088.2 L292.3,1089.6 L294.4,1092.6 M294.4,1092.6 L295.5,1092.0 L298.6,1091.8 M299.7,1084.5 L298.8,1087.1 L299.3,1090.3 L298.6,1091.8 M298.6,1091.8 L302.0,1092.0 L304.5,1088.0 L304.7,1087.3 M272.6,1094.1 L272.2,1093.0 L266.5,1093.0 L266.3,1094.3 L267.8,1095.3 L266.1,1095.5 L266.1,1097.0 L267.1,1098.7 L266.3,1105.4 M255.2,1096.8 L257.7,1098.7 L259.8,1101.4 L262.5,1101.2 L265.9,1102.3 L264.6,1104.6 L266.3,1105.4 M255.2,1096.8 L252.8,1095.7 L250.3,1095.1 L247.6,1093.6 M244.4,1103.7 L245.1,1105.8 L247.2,1107.1 L248.4,1103.9 L249.7,1102.9 L252.4,1101.8 L254.5,1099.7 L255.2,1096.8 M266.3,1105.4 L264.4,1105.6 L260.0,1107.5 L258.1,1110.5 L257.9,1112.2 L259.8,1115.5 L261.5,1117.7 L264.8,1116.6 L265.0,1119.8 L267.1,1119.8 M267.1,1119.8 L268.8,1123.0 L267.8,1129.0 L268.2,1130.9 L267.1,1133.7 M267.1,1133.7 L265.3,1135.6 M267.1,1119.8 L269.6,1119.8 L273.2,1117.5 L276.0,1117.2 L276.0,1121.3 L278.7,1123.0 L281.4,1124.1 L285.0,1125.1 L286.5,1125.8 L286.7,1131.1 L290.4,1131.1 L290.9,1133.5 L291.9,1134.8 L291.7,1137.0 L291.1,1138.7 L291.5,1139.8 M267.1,1133.7 L269.2,1138.1 L269.9,1142.5 L272.0,1145.3 M272.0,1145.3 L275.5,1143.8 L278.1,1145.3 L281.4,1144.0 M281.4,1144.0 L283.3,1138.3 L289.0,1137.6 L290.9,1139.6 L291.5,1139.8 M291.5,1139.8 L291.5,1143.8 L295.5,1144.2 L296.3,1144.9 L296.7,1148.0 L299.1,1148.2 L298.4,1151.6 M281.4,1144.0 L285.0,1147.5 L289.6,1149.8 L292.1,1150.9 L290.0,1155.2 L295.5,1155.4 L298.4,1151.6 M298.4,1151.6 L300.3,1153.1 L300.1,1154.9 L296.1,1157.7 L292.1,1162.0 M292.1,1162.0 L295.5,1163.6 L298.6,1165.5 L301.4,1168.1 L301.0,1170.3 M292.1,1162.0 L290.9,1167.4 L290.4,1170.9 M272.0,1145.3 L272.0,1148.0 L269.2,1150.2 L269.2,1154.7 L266.5,1159.3 L265.4,1165.0 L266.1,1169.7 L265.0,1175.6 L263.6,1181.7 L262.3,1187.9 L262.3,1195.5 L262.9,1202.0 L260.2,1210.0 L261.2,1214.2 L268.2,1217.5 L269.4,1218.1 M269.0,1218.9 L269.0,1225.3 M436.4,955.3 L437.9,952.8 L439.4,949.3 L438.8,947.1 L438.8,942.8 L442.3,939.5 L443.6,935.1 L445.7,931.6 L447.6,927.4 L451.2,923.8 L455.4,921.8 L456.3,921.7 M456.3,921.7 L457.9,920.8 L462.9,922.7 L465.6,923.4 L467.1,921.2 L468.8,918.6 L471.9,917.9 L474.3,919.4 L473.8,921.8 M473.8,921.8 L476.4,919.5 L477.8,919.0 M456.3,921.7 L458.3,923.1 L462.7,925.8 L462.5,928.5 L463.5,929.9 L463.9,933.4 M473.8,921.8 L473.0,924.9 L475.9,926.7 L474.3,929.5 L476.1,933.7 L475.5,936.8 L477.2,938.8 L479.3,943.2 L476.1,946.8 L471.5,950.8 M472.2,954.2 L470.7,956.5 L471.1,959.3 M471.1,959.3 L472.4,964.2 M464.3,959.1 L467.7,959.3 L471.1,959.3 M457.3,964.4 L461.0,963.5 L465.6,964.1 L469.0,965.6 M469.0,965.6 L472.4,964.2 M469.0,965.6 L467.3,967.9 L466.7,969.9 L462.5,970.7 M462.5,970.7 L461.0,969.5 M461.0,969.5 L460.8,967.8 L457.9,966.9 M461.0,969.5 L454.7,969.2 M472.4,964.2 L478.0,965.9 L478.2,968.5 L481.8,972.0 L479.9,975.9 M479.9,975.9 L477.2,978.2 L470.9,977.6 L465.6,976.5 L462.7,977.6 M462.5,970.7 L463.3,974.2 L461.9,975.4 L462.7,977.6 M462.7,977.6 L463.8,980.4 L460.5,984.3 M479.9,975.9 L484.1,975.2 L487.7,978.7 L487.7,980.7 L493.0,982.0 L497.4,982.9 L496.5,987.6 L493.4,989.6 M461.2,987.3 L465.4,988.0 L469.0,986.5 M469.0,986.5 L471.5,986.1 L474.3,987.5 L476.1,991.4 L472.4,993.9 M469.0,986.5 L472.2,990.4 L472.4,993.9 M472.4,993.9 L475.4,994.6 M460.5,984.3 L459.7,986.1 L461.2,987.3 M460.8,997.1 L463.5,998.5 L467.7,997.8 L470.5,997.4 L473.2,998.3 M471.9,1002.8 L468.6,1003.5 M468.5,1003.5 L467.9,1005.9 M468.5,1003.5 L466.1,1004.5 L463.5,1004.0 L461.4,1004.4 M461.4,1004.4 L457.2,1005.5 L455.6,1008.7 M461.4,1004.4 L460.2,1002.0 L460.8,997.1 M453.8,1003.2 L455.2,1001.4 L456.4,1003.0 L457.2,1005.5 M456.4,1003.0 L458.3,1002.2 L460.2,1002.0 M460.8,997.1 L458.1,995.6 L458.3,994.6 L455.7,992.2 M452.0,1001.6 L452.2,999.7 L453.5,999.0 L455.2,1001.4 M450.1,1000.5 L447.2,997.4 L446.2,995.6 L448.6,994.6 L453.1,995.5 L453.9,997.4 L453.5,999.0 M452.7,992.8 L453.1,995.5 M449.2,987.2 L452.6,987.7 L456.2,985.8 L459.7,986.1 M461.2,987.3 L457.7,991.4 L455.7,992.2 M455.7,992.2 L452.7,992.8 M452.7,992.8 L448.8,992.2 L447.5,991.0 M446.9,990.3 L447.8,988.5 L449.2,987.2 M443.1,970.8 L443.4,973.4 L444.0,976.2 L444.6,979.0 M444.6,979.0 L447.4,980.4 L450.5,981.2 L452.7,983.1 M452.7,983.1 L455.1,983.7 L460.5,984.3 M444.6,979.0 L442.1,979.8 L438.8,981.2 L440.4,983.7 L442.1,985.2 M442.1,985.2 L444.6,984.6 L448.7,985.6 M448.7,985.6 L451.2,984.2 L452.7,983.1 M448.7,985.6 L449.2,987.2 M442.1,985.2 L440.4,988.3 L438.5,988.3 L435.2,988.7 L433.3,988.4 M433.3,988.4 L431.0,988.1 L429.1,988.3 M429.1,988.3 L430.4,984.5 L426.6,983.1 M426.6,983.1 L425.9,981.4 L425.7,979.7 M425.7,979.7 L425.9,976.8 L427.8,975.4 L428.3,972.7 M431.3,967.9 L433.9,968.2 M418.5,978.7 L422.0,981.8 L425.3,983.0 L426.6,983.1 M420.3,978.0 L423.6,977.8 L425.5,979.0 L425.7,979.7 M429.1,988.3 L425.9,991.7 L427.8,992.8 M427.8,992.8 L427.4,995.1 L428.9,998.2 M427.8,992.8 L431.0,992.0 L432.0,992.9 L435.1,990.3 M435.1,990.3 L433.3,988.4 M435.1,990.3 L438.8,989.9 L441.9,991.2 M441.9,991.2 L441.9,993.2 M441.9,991.2 L446.9,990.3 M441.7,993.8 L445.3,993.8 L447.5,991.0 L446.9,990.3 M394.5,1003.0 L399.3,1002.9 L398.6,1005.3 L398.4,1008.5 L397.4,1008.7 L398.4,1012.2 L397.6,1014.6 M409.3,999.4 L414.6,1001.0 L419.8,1001.6 M397.8,967.3 L396.1,969.1 L399.9,970.2 M500.3,1004.0 L504.5,1005.0 M504.5,1005.0 L507.2,1008.5 M507.2,1008.5 L505.6,1009.3 L507.2,1014.8 M507.2,1014.8 L502.1,1014.9 M502.1,1014.9 L497.2,1015.6 L493.0,1015.6 L490.2,1015.6 L490.0,1017.1 L488.5,1017.8 M497.2,999.2 L501.4,999.7 L505.6,1001.3 L510.6,1003.0 M510.6,1003.0 L512.5,1004.5 L515.2,1003.2 M510.6,1003.0 L511.0,1005.0 L507.7,1004.5 M507.7,1004.5 L504.5,1005.0 M507.7,1004.5 L510.8,1009.0 L510.8,1010.5 M510.8,1010.5 L514.0,1008.5 L515.9,1011.7 M507.2,1008.5 L510.8,1010.5 M502.1,1014.9 L499.7,1020.4 L494.6,1023.7 M494.6,1023.7 L490.4,1026.3 L488.1,1025.3 M488.1,1025.3 L487.8,1028.1 L486.7,1032.6 M486.9,1024.4 L488.5,1023.7 L490.0,1021.8 L488.8,1020.8 M488.5,1023.7 L488.1,1025.3 M494.6,1023.7 L495.5,1026.6 M495.5,1026.6 L490.9,1028.1 L493.0,1030.5 L491.9,1031.6 L489.0,1033.4 L486.7,1033.1 M495.5,1026.6 L498.0,1027.2 L501.6,1029.1 L507.0,1033.4 L510.8,1033.7 M510.8,1033.7 L512.7,1031.6 L514.0,1031.7 M510.8,1033.7 L512.9,1034.0 L514.8,1035.0 M507.2,1014.8 L509.8,1018.0 L508.5,1022.3 L509.8,1024.6 L513.3,1027.0 L513.3,1029.3 L515.2,1031.6 M503.0,1061.8 L504.1,1059.4 L506.6,1059.7 L511.9,1060.5 L514.4,1057.9 L522.4,1056.2 M522.4,1056.2 L528.7,1054.0 L529.9,1049.6 L529.1,1048.1 M529.1,1048.1 L523.6,1047.4 L521.5,1044.7 M529.1,1048.1 L530.3,1044.7 L531.6,1043.1 M522.4,1056.2 L524.7,1061.3 M519.8,1043.5 L520.9,1044.0 M485.1,1028.6 L486.4,1032.8 M526.4,1014.3 L530.8,1012.5 L533.5,1012.7 L537.7,1013.9 L541.7,1016.1 L541.7,1018.5 M541.7,1018.5 L540.4,1022.5 L541.1,1028.1 L543.0,1029.1 L541.0,1032.0 M541.0,1032.0 L545.1,1035.7 L545.9,1038.0 L545.1,1039.4 L542.5,1042.7 M541.0,1032.0 L544.4,1033.0 L552.4,1032.0 L552.6,1029.4 L558.7,1027.2 L560.2,1024.2 L562.5,1022.1 L563.5,1016.6 L570.5,1014.5 M541.7,1018.5 L545.5,1019.0 L548.6,1016.8 L552.8,1014.3 M552.8,1014.3 L555.6,1014.6 M555.6,1014.6 L558.7,1014.9 L560.6,1013.7 L563.1,1012.9 L563.3,1015.6 L565.8,1015.1 L570.5,1014.5 M552.8,1014.3 L548.6,1010.4 L544.4,1007.8 L541.3,1004.8 L539.4,1004.0 L536.0,1001.0 L530.8,1004.5 M530.8,1004.5 L528.0,1002.8 L523.3,1003.4 M530.8,1004.5 L530.8,995.1 L536.2,993.5 L541.5,996.9 L549.5,998.5 L552.0,1000.2 L551.8,1002.8 L556.0,1005.2 L560.2,1003.8 L562.2,1002.2 M562.2,1002.2 L567.5,1001.6 L569.2,999.7 L572.8,1000.5 L579.1,1000.8 L581.6,1002.3 M581.6,1002.3 L577.0,1005.3 L574.7,1005.3 L570.7,1006.7 L568.2,1008.3 L567.8,1009.1 M567.8,1009.1 L570.5,1011.5 L570.5,1014.5 M567.8,1009.1 L562.3,1009.0 L558.7,1009.0 M555.6,1014.6 L556.8,1012.2 L555.3,1008.8 L558.7,1009.0 L561.2,1007.0 M562.2,1002.2 L564.0,1004.0 L566.5,1005.8 L563.7,1007.3 L561.2,1007.0 M516.5,991.6 L515.0,988.8 L512.3,987.7 L510.8,986.1 L511.9,984.0 L511.7,982.0 L515.0,981.8 L515.6,980.1 L519.8,977.3 L523.4,977.6 L527.6,979.0 L530.1,980.1 L533.9,979.0 L536.2,979.0 L539.0,980.1 L542.1,979.6 L539.4,976.2 L541.3,973.5 L541.7,970.8 L547.6,969.7 L550.1,969.4 L556.4,967.6 L562.1,966.7 L562.7,969.9 L567.5,970.5 L569.6,971.7 L573.8,969.9 L576.8,972.5 L581.2,979.6 L584.3,979.6 L588.3,979.0 L592.3,982.9 L596.6,984.2 M596.6,984.2 L593.4,986.1 L592.7,989.6 L587.5,989.3 L586.0,993.8 L582.9,994.8 L582.0,996.4 L581.6,1002.3 M596.6,984.2 L597.6,984.0 M597.6,984.0 L601.6,982.0 L607.0,979.6 L611.6,981.8 L617.9,982.0 L619.6,980.4 L620.9,975.9 L627.8,978.2 L628.0,980.1 L633.7,980.7 L637.9,981.8 L641.1,983.7 L646.3,983.5 L653.2,981.1 L658.3,982.2 M597.6,984.0 L599.5,986.7 L603.2,988.5 L604.3,994.6 L609.5,995.2 L613.5,996.9 L615.6,1000.9 L623.2,1001.1 L627.0,1001.5 L633.5,1003.7 L639.0,1001.6 L643.2,1001.6 L648.3,998.5 L648.2,995.0 L651.8,995.8 L655.8,994.1 L658.1,991.7 L664.6,990.9 L664.6,989.3 L660.6,988.1 L656.8,987.6 L655.8,986.8 L658.3,982.2 M658.3,982.2 L660.6,983.1 L663.5,981.5 L665.4,977.2 L666.9,974.5 L665.4,974.1 L667.3,972.5 L672.8,971.8 L677.0,973.2 L680.5,980.9 L681.2,982.3 L687.5,984.9 L688.2,988.0 L691.5,987.9 L696.2,986.2 L695.3,988.8 L692.7,994.8 L690.2,994.3 L688.5,995.4 L688.9,999.2 L687.5,1001.8 M687.5,1001.8 L687.7,1002.0 M687.5,1001.8 L686.0,1000.2 L682.0,1002.8 L679.7,1003.3 L677.8,1005.5 L674.5,1007.8 L674.3,1008.0 M678.0,1013.3 L679.9,1012.0 L682.9,1011.2 M640.0,1050.6 L637.9,1049.8 L637.3,1047.6 L634.3,1046.7 L631.6,1048.3 L628.4,1048.1 L627.7,1048.6 M627.7,1048.6 L626.8,1051.4 L625.6,1050.6 M625.6,1050.6 L623.4,1053.2 M625.6,1050.6 L621.5,1049.3 L621.1,1047.2 L618.2,1045.4 L618.1,1043.5 L620.5,1040.9 L620.5,1037.2 L617.6,1035.6 M617.6,1035.6 L614.8,1033.0 L611.9,1033.2 L606.4,1036.6 L605.7,1036.6 M605.7,1036.6 L603.2,1036.0 L599.9,1037.8 M605.7,1036.6 L606.5,1038.8 L602.2,1039.0 L599.8,1038.7 L599.9,1037.8 M599.9,1037.8 L598.2,1036.4 M598.2,1036.4 L593.8,1036.2 L589.6,1034.1 L585.4,1030.9 L583.4,1031.2 M598.2,1036.4 L598.2,1039.8 L591.7,1039.1 L588.1,1037.5 L581.4,1034.4 L583.4,1031.2 M583.4,1031.2 L579.1,1028.8 L578.5,1025.6 L580.1,1024.6 L578.7,1021.6 L577.0,1018.7 L576.6,1018.7 M576.6,1018.7 L572.8,1017.5 L570.5,1014.5 M576.6,1018.7 L569.6,1020.6 L568.6,1024.6 L571.5,1026.3 L569.6,1029.3 L568.4,1031.6 L566.3,1034.1 L564.2,1036.4 L560.8,1036.4 L559.3,1038.5 L562.1,1041.4 L562.5,1043.6 L558.1,1044.5 L556.4,1045.8 M600.3,1050.1 L599.7,1044.5 L598.6,1039.8 L601.8,1040.7 L601.8,1042.3 L607.2,1042.8 L604.7,1045.2 L605.3,1047.4 L607.0,1045.8 L607.7,1049.8 M607.7,1049.8 L606.8,1052.2 M607.7,1049.8 L608.9,1047.4 L609.3,1045.2 L612.1,1042.3 L613.1,1039.6 L615.2,1037.8 L617.6,1035.6 M623.4,1053.2 L621.1,1054.4 L618.6,1057.3 L618.4,1058.8 L620.3,1062.0 L619.4,1064.4 L621.3,1067.6 L622.1,1072.1 L620.3,1075.5 M623.4,1053.2 L624.5,1055.1 L625.9,1055.1 L625.3,1059.4 L627.6,1057.9 L630.3,1057.5 L633.1,1059.4 L633.3,1061.8 L635.0,1063.5 L634.1,1066.2 M634.1,1066.2 L629.5,1066.4 L628.1,1067.9 L629.3,1072.0 M627.7,1048.6 L629.3,1050.5 L632.9,1052.7 L631.4,1055.5 L634.1,1057.1 L636.9,1060.7 L639.2,1064.2 L639.1,1065.5 M634.1,1066.2 L635.8,1067.1 L639.1,1065.5 M639.1,1065.5 L639.2,1070.6 L635.6,1072.0 L636.2,1073.5 L632.5,1074.7 M623.4,1083.0 L625.5,1084.7 L627.6,1083.5 M643.4,1092.4 L643.6,1093.2 L645.5,1094.7 L648.8,1093.5 L652.0,1094.0 L654.3,1092.6 L656.0,1090.9 L656.2,1087.5 L660.2,1087.8 M709.3,1102.0 L709.3,1115.8 M408.5,1019.7 L409.3,1021.3 L410.4,1026.5 L405.6,1027.7 L405.4,1029.5 L402.8,1030.5 L398.2,1032.5 L394.9,1034.6 L394.9,1036.9 M394.9,1036.9 L385.4,1036.9 M394.9,1036.9 L394.9,1040.7 L387.9,1040.7 L387.9,1046.4 L385.6,1048.0 L385.8,1051.1 L377.5,1051.1 M394.9,1037.8 L403.0,1042.9 M403.0,1042.9 L399.5,1042.9 L401.6,1061.8 L402.0,1063.8 L393.2,1063.9 L390.2,1064.5 L389.0,1063.5 L387.5,1065.4 M378.5,1062.6 L382.7,1061.3 L385.0,1062.6 L387.5,1065.4 M387.5,1065.4 L389.0,1070.3 M377.8,1068.8 L380.8,1068.4 L384.1,1068.4 L381.2,1067.5 L378.3,1067.8 M378.0,1070.5 L381.6,1069.9 L384.3,1070.0 M381.4,1073.4 L384.3,1071.9 L384.3,1070.0 M384.3,1070.0 L389.0,1070.3 M389.0,1070.3 L394.2,1070.4 L394.4,1071.2 L396.4,1075.1 M385.2,1077.5 L390.0,1075.5 L391.5,1078.7 M389.0,1082.0 L391.5,1078.7 M391.5,1078.7 L394.0,1081.4 L395.3,1080.7 M395.3,1080.7 L397.3,1087.4 M395.3,1080.7 L396.4,1075.1 M396.4,1075.1 L401.6,1074.7 M401.6,1074.7 L404.1,1069.8 L404.9,1068.3 L408.9,1066.5 L413.6,1065.0 M401.6,1074.7 L407.4,1076.8 M407.4,1076.8 L406.6,1085.9 M407.4,1076.8 L407.0,1073.4 L412.8,1073.2 M412.8,1073.2 L414.2,1076.6 L414.4,1081.0 L415.6,1083.8 M415.0,1073.4 L416.5,1077.6 L416.5,1083.5 M420.7,1071.9 L419.0,1077.6 L418.8,1083.2 M412.8,1073.2 L415.0,1073.4 L418.2,1070.7 M418.2,1070.7 L420.7,1071.9 M413.6,1065.0 L415.2,1068.4 L418.2,1070.7 M413.6,1065.0 L420.5,1064.1 L422.0,1060.7 L422.1,1055.9 M403.0,1042.9 L415.5,1051.6 L416.9,1053.3 L419.8,1054.4 L422.1,1055.9 M422.1,1055.9 L425.3,1055.2 L428.8,1052.1 L438.3,1046.3 M438.3,1046.3 L434.8,1044.1 L433.9,1039.6 L433.2,1031.0 M433.2,1031.0 L432.0,1026.8 L428.9,1022.8 L430.6,1020.6 L431.2,1015.2 M433.2,1031.0 L434.8,1027.7 L437.4,1024.3 M438.3,1046.3 L444.6,1047.4 M444.6,1047.4 L463.5,1055.1 M463.5,1055.1 L463.5,1054.0 L465.6,1054.0 L465.6,1049.6 M465.6,1049.6 L465.6,1033.4 L465.0,1031.2 L466.0,1027.8 M465.6,1049.6 L490.6,1049.6 M444.6,1047.4 L446.6,1053.2 L445.7,1060.7 L441.5,1065.9 L441.7,1067.6 M441.7,1067.6 L438.3,1068.9 L432.0,1069.4 L428.0,1069.1 L421.7,1067.8 L420.7,1071.9 M431.0,1087.0 L432.7,1083.1 L436.9,1082.5 L439.8,1078.5 L441.9,1073.6 L443.8,1070.8 L442.7,1069.1 M441.7,1067.6 L442.7,1069.1 M442.7,1069.1 L444.8,1073.6 L445.5,1075.6 L442.4,1076.4 L445.1,1078.9 L445.7,1080.8 M445.7,1080.8 L443.8,1084.2 L444.0,1086.9 L446.9,1090.6 L447.2,1092.0 M447.2,1092.0 L441.1,1092.0 L437.0,1092.0 L433.7,1091.8 M437.0,1092.0 L437.0,1094.5 L433.7,1094.5 M441.1,1092.0 L443.4,1094.5 L443.4,1100.4 L439.4,1101.4 L436.4,1104.9 M452.2,1089.2 L450.7,1094.5 L450.3,1097.8 L447.2,1101.2 L446.5,1104.8 L443.4,1106.9 L440.6,1106.3 L438.8,1107.3 L438.3,1107.1 M447.2,1092.0 L448.0,1089.2 L452.2,1089.2 M452.2,1089.2 L452.2,1087.5 L454.1,1085.9 L460.2,1088.0 L461.2,1086.5 L464.4,1085.9 L466.3,1086.1 L470.8,1086.0 M445.7,1080.8 L448.0,1080.4 L452.2,1079.7 L453.0,1077.6 L456.0,1077.4 L458.7,1074.2 L461.2,1073.5 M461.2,1073.5 L459.8,1069.8 L460.0,1066.3 L461.2,1063.8 L463.5,1063.3 L463.5,1055.1 M461.2,1073.5 L462.5,1077.8 L464.0,1078.3 M464.0,1078.3 L465.9,1080.2 L468.6,1082.7 L470.8,1086.0 M464.0,1078.3 L465.2,1075.9 L469.0,1076.6 L471.9,1076.8 L475.1,1075.9 L477.8,1076.0 L480.4,1071.2 L482.9,1070.8 L482.7,1074.0 L484.3,1076.6 L484.8,1076.7 M484.8,1076.7 L485.2,1074.2 L487.3,1071.2 L489.0,1069.8 L489.7,1066.1 M489.7,1066.1 L490.6,1061.4 L494.0,1058.4 M489.7,1066.1 L492.7,1065.0 L495.3,1065.7 L499.0,1066.8 L502.2,1070.2 M502.2,1070.2 L500.9,1073.4 L503.5,1073.4 L504.0,1072.4 M502.2,1070.2 L503.7,1069.8 M503.5,1073.4 L504.5,1076.8 L507.7,1078.4 L511.9,1079.7 L514.0,1079.7 L507.7,1086.1 L503.5,1087.1 L501.1,1088.3 M501.1,1088.3 L498.8,1087.8 L496.1,1089.3 L493.2,1089.0 L490.6,1087.2 L488.5,1086.9 M488.5,1086.9 L486.7,1085.0 L484.6,1081.9 L482.5,1079.9 L484.8,1078.5 L484.8,1076.7 M501.1,1088.3 L499.2,1090.7 L499.3,1098.4 L500.4,1100.1 M488.5,1086.9 L484.6,1087.8 M484.6,1087.8 L485.6,1089.2 L486.7,1093.0 L484.6,1096.2 L484.3,1098.7 M484.3,1098.7 L492.1,1102.9 L492.5,1104.4 L495.5,1106.5 M484.6,1087.8 L481.8,1088.7 L477.9,1089.2 M477.9,1089.2 L478.9,1092.1 L475.9,1095.3 L475.3,1097.8 L475.3,1099.4 M477.2,1098.8 L484.3,1098.7 M475.3,1099.4 L477.2,1098.8 M470.8,1086.0 L472.8,1087.5 L475.5,1086.9 L477.9,1089.2 M477.2,1098.8 L477.8,1101.4 M477.8,1101.4 L477.0,1104.6 L474.9,1105.9 M475.3,1099.4 L474.0,1102.3 L474.5,1103.5 L474.9,1105.9 M474.0,1102.3 L477.8,1101.4 M474.9,1105.9 L475.5,1110.3 L477.7,1113.9 M477.7,1113.9 L482.3,1116.4 M482.3,1116.4 L484.6,1116.6 L486.5,1121.0 M486.5,1121.0 L491.9,1121.3 L498.1,1118.7 M482.3,1116.4 L483.1,1119.4 L482.5,1124.1 L482.9,1126.2 M482.9,1126.2 L485.6,1127.5 L485.4,1130.5 L487.1,1132.4 L488.3,1130.5 L487.7,1126.8 L486.0,1123.0 L486.5,1121.0 M477.7,1113.9 L473.8,1114.5 L472.8,1116.1 L473.4,1119.2 L473.0,1122.8 L475.7,1122.3 L475.7,1125.0 L473.8,1124.9 L470.7,1121.9 L466.3,1120.2 L464.4,1120.6 L463.5,1119.6 M463.5,1119.6 L463.5,1124.1 L459.3,1124.1 L459.3,1130.9 L462.3,1133.9 M463.5,1119.6 L460.0,1119.4 L459.1,1113.4 L454.1,1111.3 L453.0,1113.4 L450.1,1113.6 L448.0,1109.0 L440.4,1109.0 L438.9,1109.3 M437.8,1133.2 L442.5,1133.5 L451.8,1133.5 L458.1,1134.8 L462.3,1133.9 M462.3,1133.9 L466.2,1134.4 L464.6,1134.8 L462.1,1134.8 L457.2,1135.5 L457.2,1143.6 L455.1,1143.6 L455.1,1149.7 M455.1,1149.7 L455.1,1157.9 L453.0,1159.0 L449.7,1158.6 L447.7,1158.3 M455.1,1149.7 L456.6,1154.5 L460.6,1152.7 L465.0,1152.0 L466.7,1151.8 L469.4,1148.7 L474.8,1144.0 M474.8,1144.0 L471.3,1140.3 L468.2,1137.2 L466.2,1134.4 M466.2,1134.4 L469.8,1134.7 L473.6,1131.4 L477.0,1129.6 M477.0,1129.6 L476.6,1127.9 L482.9,1126.2 M477.0,1129.6 L478.9,1130.5 L482.2,1132.0 L481.8,1135.9 L482.5,1138.1 L481.4,1142.0 L478.9,1144.4 M474.8,1144.0 L478.9,1144.4 M478.9,1144.4 L480.4,1149.1 L480.1,1152.0 L480.6,1154.4 L482.2,1154.4 M478.2,1151.8 L480.6,1153.1 L480.1,1155.2 L478.7,1155.4 L477.8,1154.0 L478.2,1151.8 M469.8,1160.6 L471.9,1158.6 L474.9,1160.2 L474.3,1162.2 L471.3,1162.9 L469.8,1160.6" fill="none" stroke="#fff" stroke-opacity=".85" stroke-width=".65" stroke-linejoin="round"/>
</svg>
<div class="abs" style="left:28px;top:865px;width:15px;height:14px;border-radius:3px;background:#292929;"></div>
<div class="abs" style="left:28px;top:884px;width:15px;height:14px;border-radius:3px;background:#292929;"></div>
<div class="abs" style="left:32px;top:871.2px;width:7px;height:1.6px;background:#fff;"></div><div class="abs" style="left:34.7px;top:868.5px;width:1.6px;height:7px;background:#fff;"></div>
<div class="abs" style="left:32px;top:890.2px;width:7px;height:1.6px;background:#fff;"></div>
<div class="abs" style="left:24px;top:982px;width:196px;height:23px;box-sizing:border-box;border:1px solid #cdcdcd;border-radius:3px;background:#292929;"></div>
<div class="t" style="left:27.5px;top:987.5px;font-size:10.6px;line-height:12px;color:#fff;-webkit-text-stroke:.25px #fff;">United States of America: 62.7K (41.8%)</div>
<svg class="abs" style="left:24px;top:833px;opacity:.55" width="20" height="18" viewBox="0 0 20 18"><path d="M0,3 L6,1 L6,15 L0,17 Z M7,1 L13,3 L13,17 L7,15 Z M14,3 L19.5,1 L19.5,15 L14,17 Z" fill="#c4c4c4"/></svg>
<svg class="abs" style="left:51px;top:833px" width="23" height="18" viewBox="0 0 23 18"><rect x="0" y="1.5" width="3.4" height="2.9" fill="#8a8a8a"/><rect x="0" y="5.6" width="3.4" height="2.9" fill="#8a8a8a"/><rect x="0" y="9.7" width="3.4" height="2.9" fill="#8a8a8a"/><rect x="0" y="13.8" width="3.4" height="2.9" fill="#8a8a8a"/><path d="M13.5,2.2 A7.8,7.8 0 1 0 21.3,10 L13.5,10 Z" fill="#9a9a9a"/><path d="M15,0.8 A7.8,7.8 0 0 1 22.8,8.6 L15,8.6 Z" fill="#8a8a8a"/></svg>

</body>
</html>
